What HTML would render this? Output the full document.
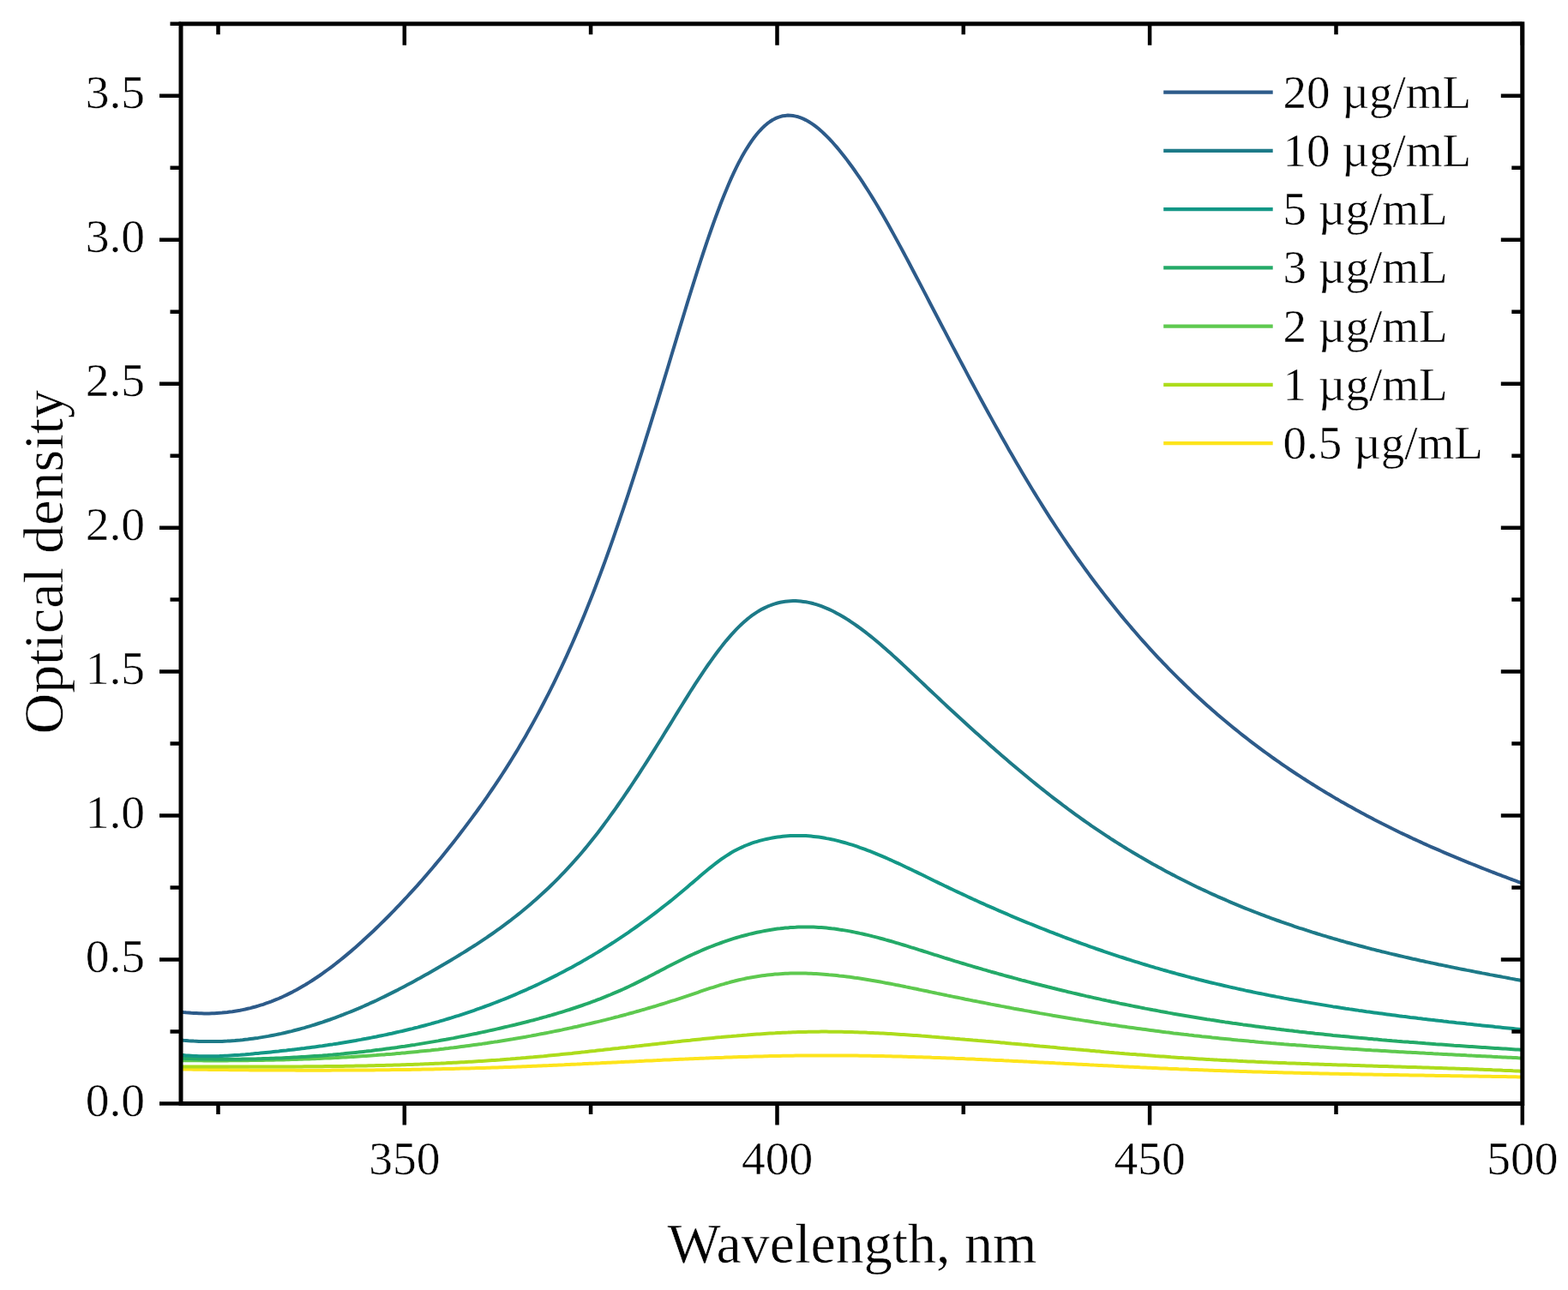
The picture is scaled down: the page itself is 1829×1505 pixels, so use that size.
<!DOCTYPE html>
<html><head><meta charset="utf-8"><title>Optical density spectra</title>
<style>html,body{margin:0;padding:0;background:#fff;}svg{display:block;}</style>
</head><body>
<svg width="1829" height="1505" viewBox="0 0 1829 1505">
<rect width="1829" height="1505" fill="#fff"/>
<defs><clipPath id="c"><rect x="211.0" y="27.8" width="1564.8" height="1259.7"/></clipPath></defs>
<g clip-path="url(#c)" fill="none" stroke-width="4.0" stroke-linejoin="round" stroke-linecap="round">
<path d="M211.0,1247.4 L214.0,1247.5 L217.0,1247.5 L220.0,1247.6 L223.0,1247.6 L226.0,1247.7 L229.0,1247.7 L232.0,1247.7 L235.0,1247.8 L238.0,1247.8 L241.0,1247.8 L244.0,1247.9 L247.0,1247.9 L250.0,1248.0 L253.0,1248.0 L256.0,1248.0 L259.0,1248.1 L262.0,1248.1 L265.0,1248.1 L268.0,1248.2 L271.0,1248.2 L274.0,1248.2 L277.0,1248.2 L280.0,1248.3 L283.0,1248.3 L286.0,1248.3 L289.0,1248.3 L292.0,1248.4 L295.0,1248.4 L298.0,1248.4 L301.0,1248.4 L304.0,1248.5 L307.0,1248.5 L310.0,1248.5 L313.0,1248.5 L316.0,1248.5 L319.0,1248.6 L322.0,1248.6 L325.0,1248.6 L328.0,1248.6 L331.0,1248.6 L334.0,1248.6 L337.0,1248.6 L340.0,1248.6 L343.0,1248.6 L346.0,1248.7 L349.0,1248.7 L352.0,1248.7 L355.0,1248.7 L358.0,1248.7 L361.0,1248.7 L364.0,1248.7 L367.0,1248.7 L370.0,1248.7 L373.0,1248.7 L376.0,1248.7 L379.0,1248.7 L382.0,1248.7 L385.0,1248.7 L388.0,1248.6 L391.0,1248.6 L394.0,1248.6 L397.0,1248.6 L400.0,1248.6 L403.0,1248.6 L406.0,1248.6 L409.0,1248.6 L412.0,1248.5 L415.0,1248.5 L418.0,1248.5 L421.0,1248.5 L424.0,1248.5 L427.0,1248.4 L430.0,1248.4 L433.0,1248.4 L436.0,1248.4 L439.0,1248.3 L442.0,1248.3 L445.0,1248.3 L448.0,1248.2 L451.0,1248.2 L454.0,1248.2 L457.0,1248.1 L460.0,1248.1 L463.0,1248.1 L466.0,1248.0 L469.0,1248.0 L472.0,1247.9 L475.0,1247.9 L478.0,1247.9 L481.0,1247.8 L484.0,1247.8 L487.0,1247.7 L490.0,1247.7 L493.0,1247.6 L496.0,1247.5 L499.0,1247.5 L502.0,1247.4 L505.0,1247.4 L508.0,1247.3 L511.0,1247.3 L514.0,1247.2 L517.0,1247.1 L520.0,1247.1 L523.0,1247.0 L526.0,1246.9 L529.0,1246.9 L532.0,1246.8 L535.0,1246.7 L538.0,1246.6 L541.0,1246.6 L544.0,1246.5 L547.0,1246.4 L550.0,1246.3 L553.0,1246.2 L556.0,1246.1 L559.0,1246.1 L562.0,1246.0 L565.0,1245.9 L568.0,1245.8 L571.0,1245.7 L574.0,1245.6 L577.0,1245.5 L580.0,1245.4 L583.0,1245.3 L586.0,1245.2 L589.0,1245.1 L592.0,1245.0 L595.0,1244.9 L598.0,1244.8 L601.0,1244.7 L604.0,1244.5 L607.0,1244.4 L610.0,1244.3 L613.0,1244.2 L616.0,1244.1 L619.0,1244.0 L622.0,1243.8 L625.0,1243.7 L628.0,1243.6 L631.0,1243.5 L634.0,1243.3 L637.0,1243.2 L640.0,1243.1 L643.0,1242.9 L646.0,1242.8 L649.0,1242.7 L652.0,1242.5 L655.0,1242.4 L658.0,1242.3 L661.0,1242.1 L664.0,1242.0 L667.0,1241.8 L670.0,1241.7 L673.0,1241.6 L676.0,1241.4 L679.0,1241.3 L682.0,1241.1 L685.0,1241.0 L688.0,1240.8 L691.0,1240.7 L694.0,1240.6 L697.0,1240.4 L700.0,1240.3 L703.0,1240.1 L706.0,1240.0 L709.0,1239.8 L712.0,1239.7 L715.0,1239.5 L718.0,1239.4 L721.0,1239.2 L724.0,1239.1 L727.0,1238.9 L730.0,1238.8 L733.0,1238.7 L736.0,1238.5 L739.0,1238.4 L742.0,1238.2 L745.0,1238.1 L748.0,1237.9 L751.0,1237.8 L754.0,1237.6 L757.0,1237.5 L760.0,1237.4 L763.0,1237.2 L766.0,1237.1 L769.0,1236.9 L772.0,1236.8 L775.0,1236.6 L778.0,1236.5 L781.0,1236.4 L784.0,1236.2 L787.0,1236.1 L790.0,1236.0 L793.0,1235.8 L796.0,1235.7 L799.0,1235.6 L802.0,1235.4 L805.0,1235.3 L808.0,1235.2 L811.0,1235.0 L814.0,1234.9 L817.0,1234.8 L820.0,1234.7 L823.0,1234.6 L826.0,1234.4 L829.0,1234.3 L832.0,1234.2 L835.0,1234.1 L838.0,1234.0 L841.0,1233.9 L844.0,1233.8 L847.0,1233.6 L850.0,1233.5 L853.0,1233.4 L856.0,1233.3 L859.0,1233.2 L862.0,1233.1 L865.0,1233.0 L868.0,1233.0 L871.0,1232.9 L874.0,1232.8 L877.0,1232.7 L880.0,1232.6 L883.0,1232.5 L886.0,1232.4 L889.0,1232.4 L892.0,1232.3 L895.0,1232.2 L898.0,1232.1 L901.0,1232.1 L904.0,1232.0 L907.0,1232.0 L910.0,1231.9 L913.0,1231.8 L916.0,1231.8 L919.0,1231.7 L922.0,1231.7 L925.0,1231.7 L928.0,1231.6 L931.0,1231.6 L934.0,1231.5 L937.0,1231.5 L940.0,1231.5 L943.0,1231.5 L946.0,1231.4 L949.0,1231.4 L952.0,1231.4 L955.0,1231.4 L958.0,1231.4 L961.0,1231.4 L964.0,1231.4 L967.0,1231.4 L970.0,1231.4 L973.0,1231.4 L976.0,1231.4 L979.0,1231.4 L982.0,1231.4 L985.0,1231.5 L988.0,1231.5 L991.0,1231.5 L994.0,1231.5 L997.0,1231.6 L1000.0,1231.6 L1003.0,1231.7 L1006.0,1231.7 L1009.0,1231.7 L1012.0,1231.8 L1015.0,1231.8 L1018.0,1231.9 L1021.0,1231.9 L1024.0,1232.0 L1027.0,1232.1 L1030.0,1232.1 L1033.0,1232.2 L1036.0,1232.3 L1039.0,1232.3 L1042.0,1232.4 L1045.0,1232.5 L1048.0,1232.6 L1051.0,1232.6 L1054.0,1232.7 L1057.0,1232.8 L1060.0,1232.9 L1063.0,1233.0 L1066.0,1233.1 L1069.0,1233.2 L1072.0,1233.2 L1075.0,1233.3 L1078.0,1233.4 L1081.0,1233.5 L1084.0,1233.6 L1087.0,1233.8 L1090.0,1233.9 L1093.0,1234.0 L1096.0,1234.1 L1099.0,1234.2 L1102.0,1234.3 L1105.0,1234.4 L1108.0,1234.5 L1111.0,1234.6 L1114.0,1234.8 L1117.0,1234.9 L1120.0,1235.0 L1123.0,1235.1 L1126.0,1235.3 L1129.0,1235.4 L1132.0,1235.5 L1135.0,1235.6 L1138.0,1235.8 L1141.0,1235.9 L1144.0,1236.0 L1147.0,1236.2 L1150.0,1236.3 L1153.0,1236.4 L1156.0,1236.6 L1159.0,1236.7 L1162.0,1236.9 L1165.0,1237.0 L1168.0,1237.1 L1171.0,1237.3 L1174.0,1237.4 L1177.0,1237.6 L1180.0,1237.7 L1183.0,1237.9 L1186.0,1238.0 L1189.0,1238.2 L1192.0,1238.3 L1195.0,1238.4 L1198.0,1238.6 L1201.0,1238.7 L1204.0,1238.9 L1207.0,1239.0 L1210.0,1239.2 L1213.0,1239.4 L1216.0,1239.5 L1219.0,1239.7 L1222.0,1239.8 L1225.0,1240.0 L1228.0,1240.1 L1231.0,1240.3 L1234.0,1240.4 L1237.0,1240.6 L1240.0,1240.7 L1243.0,1240.9 L1246.0,1241.0 L1249.0,1241.2 L1252.0,1241.3 L1255.0,1241.5 L1258.0,1241.7 L1261.0,1241.8 L1264.0,1242.0 L1267.0,1242.1 L1270.0,1242.3 L1273.0,1242.4 L1276.0,1242.6 L1279.0,1242.7 L1282.0,1242.9 L1285.0,1243.0 L1288.0,1243.2 L1291.0,1243.3 L1294.0,1243.5 L1297.0,1243.6 L1300.0,1243.8 L1303.0,1243.9 L1306.0,1244.1 L1309.0,1244.2 L1312.0,1244.4 L1315.0,1244.5 L1318.0,1244.7 L1321.0,1244.8 L1324.0,1245.0 L1327.0,1245.1 L1330.0,1245.3 L1333.0,1245.4 L1336.0,1245.5 L1339.0,1245.7 L1342.0,1245.8 L1345.0,1246.0 L1348.0,1246.1 L1351.0,1246.2 L1354.0,1246.4 L1357.0,1246.5 L1360.0,1246.6 L1363.0,1246.8 L1366.0,1246.9 L1369.0,1247.0 L1372.0,1247.1 L1375.0,1247.3 L1378.0,1247.4 L1381.0,1247.5 L1384.0,1247.6 L1387.0,1247.8 L1390.0,1247.9 L1393.0,1248.0 L1396.0,1248.1 L1399.0,1248.2 L1402.0,1248.3 L1405.0,1248.5 L1408.0,1248.6 L1411.0,1248.7 L1414.0,1248.8 L1417.0,1248.9 L1420.0,1249.0 L1423.0,1249.1 L1426.0,1249.2 L1429.0,1249.3 L1432.0,1249.4 L1435.0,1249.5 L1438.0,1249.6 L1441.0,1249.7 L1444.0,1249.8 L1447.0,1249.9 L1450.0,1250.0 L1453.0,1250.1 L1456.0,1250.2 L1459.0,1250.3 L1462.0,1250.4 L1465.0,1250.5 L1468.0,1250.5 L1471.0,1250.6 L1474.0,1250.7 L1477.0,1250.8 L1480.0,1250.9 L1483.0,1251.0 L1486.0,1251.1 L1489.0,1251.1 L1492.0,1251.2 L1495.0,1251.3 L1498.0,1251.4 L1501.0,1251.5 L1504.0,1251.5 L1507.0,1251.6 L1510.0,1251.7 L1513.0,1251.8 L1516.0,1251.8 L1519.0,1251.9 L1522.0,1252.0 L1525.0,1252.0 L1528.0,1252.1 L1531.0,1252.2 L1534.0,1252.3 L1537.0,1252.3 L1540.0,1252.4 L1543.0,1252.5 L1546.0,1252.5 L1549.0,1252.6 L1552.0,1252.7 L1555.0,1252.7 L1558.0,1252.8 L1561.0,1252.8 L1564.0,1252.9 L1567.0,1253.0 L1570.0,1253.0 L1573.0,1253.1 L1576.0,1253.1 L1579.0,1253.2 L1582.0,1253.3 L1585.0,1253.3 L1588.0,1253.4 L1591.0,1253.4 L1594.0,1253.5 L1597.0,1253.6 L1600.0,1253.6 L1603.0,1253.7 L1606.0,1253.7 L1609.0,1253.8 L1612.0,1253.8 L1615.0,1253.9 L1618.0,1253.9 L1621.0,1254.0 L1624.0,1254.0 L1627.0,1254.1 L1630.0,1254.1 L1633.0,1254.2 L1636.0,1254.2 L1639.0,1254.3 L1642.0,1254.3 L1645.0,1254.4 L1648.0,1254.4 L1651.0,1254.5 L1654.0,1254.5 L1657.0,1254.6 L1660.0,1254.6 L1663.0,1254.7 L1666.0,1254.7 L1669.0,1254.8 L1672.0,1254.8 L1675.0,1254.9 L1678.0,1254.9 L1681.0,1255.0 L1684.0,1255.0 L1687.0,1255.1 L1690.0,1255.1 L1693.0,1255.2 L1696.0,1255.2 L1699.0,1255.2 L1702.0,1255.3 L1705.0,1255.3 L1708.0,1255.4 L1711.0,1255.4 L1714.0,1255.5 L1717.0,1255.5 L1720.0,1255.6 L1723.0,1255.6 L1726.0,1255.7 L1729.0,1255.7 L1732.0,1255.8 L1735.0,1255.8 L1738.0,1255.8 L1741.0,1255.9 L1744.0,1255.9 L1747.0,1256.0 L1750.0,1256.0 L1753.0,1256.1 L1756.0,1256.1 L1759.0,1256.2 L1762.0,1256.2 L1765.0,1256.3 L1768.0,1256.3 L1771.0,1256.4 L1774.0,1256.4 L1775.8,1256.4" stroke="#fde41c"/>
<path d="M211.0,1244.5 L214.0,1244.5 L217.0,1244.5 L220.0,1244.5 L223.0,1244.5 L226.0,1244.5 L229.0,1244.5 L232.0,1244.5 L235.0,1244.5 L238.0,1244.5 L241.0,1244.5 L244.0,1244.5 L247.0,1244.5 L250.0,1244.5 L253.0,1244.5 L256.0,1244.5 L259.0,1244.5 L262.0,1244.5 L265.0,1244.5 L268.0,1244.5 L271.0,1244.5 L274.0,1244.6 L277.0,1244.6 L280.0,1244.6 L283.0,1244.6 L286.0,1244.6 L289.0,1244.6 L292.0,1244.6 L295.0,1244.5 L298.0,1244.5 L301.0,1244.5 L304.0,1244.5 L307.0,1244.5 L310.0,1244.5 L313.0,1244.5 L316.0,1244.5 L319.0,1244.5 L322.0,1244.5 L325.0,1244.5 L328.0,1244.5 L331.0,1244.5 L334.0,1244.5 L337.0,1244.4 L340.0,1244.4 L343.0,1244.4 L346.0,1244.4 L349.0,1244.4 L352.0,1244.4 L355.0,1244.3 L358.0,1244.3 L361.0,1244.3 L364.0,1244.3 L367.0,1244.2 L370.0,1244.2 L373.0,1244.2 L376.0,1244.2 L379.0,1244.1 L382.0,1244.1 L385.0,1244.1 L388.0,1244.0 L391.0,1244.0 L394.0,1243.9 L397.0,1243.9 L400.0,1243.9 L403.0,1243.8 L406.0,1243.8 L409.0,1243.7 L412.0,1243.7 L415.0,1243.6 L418.0,1243.6 L421.0,1243.5 L424.0,1243.5 L427.0,1243.4 L430.0,1243.3 L433.0,1243.3 L436.0,1243.2 L439.0,1243.1 L442.0,1243.1 L445.0,1243.0 L448.0,1242.9 L451.0,1242.8 L454.0,1242.7 L457.0,1242.7 L460.0,1242.6 L463.0,1242.5 L466.0,1242.4 L469.0,1242.3 L472.0,1242.2 L475.0,1242.1 L478.0,1242.0 L481.0,1241.9 L484.0,1241.8 L487.0,1241.7 L490.0,1241.6 L493.0,1241.4 L496.0,1241.3 L499.0,1241.2 L502.0,1241.1 L505.0,1241.0 L508.0,1240.8 L511.0,1240.7 L514.0,1240.6 L517.0,1240.4 L520.0,1240.3 L523.0,1240.1 L526.0,1240.0 L529.0,1239.8 L532.0,1239.7 L535.0,1239.5 L538.0,1239.3 L541.0,1239.2 L544.0,1239.0 L547.0,1238.8 L550.0,1238.7 L553.0,1238.5 L556.0,1238.3 L559.0,1238.1 L562.0,1237.9 L565.0,1237.7 L568.0,1237.5 L571.0,1237.3 L574.0,1237.1 L577.0,1236.9 L580.0,1236.7 L583.0,1236.5 L586.0,1236.2 L589.0,1236.0 L592.0,1235.8 L595.0,1235.6 L598.0,1235.3 L601.0,1235.1 L604.0,1234.8 L607.0,1234.6 L610.0,1234.3 L613.0,1234.1 L616.0,1233.8 L619.0,1233.5 L622.0,1233.3 L625.0,1233.0 L628.0,1232.7 L631.0,1232.4 L634.0,1232.2 L637.0,1231.9 L640.0,1231.6 L643.0,1231.3 L646.0,1231.0 L649.0,1230.7 L652.0,1230.4 L655.0,1230.1 L658.0,1229.8 L661.0,1229.5 L664.0,1229.2 L667.0,1228.9 L670.0,1228.5 L673.0,1228.2 L676.0,1227.9 L679.0,1227.6 L682.0,1227.3 L685.0,1226.9 L688.0,1226.6 L691.0,1226.3 L694.0,1226.0 L697.0,1225.6 L700.0,1225.3 L703.0,1225.0 L706.0,1224.6 L709.0,1224.3 L712.0,1224.0 L715.0,1223.6 L718.0,1223.3 L721.0,1223.0 L724.0,1222.6 L727.0,1222.3 L730.0,1222.0 L733.0,1221.6 L736.0,1221.3 L739.0,1220.9 L742.0,1220.6 L745.0,1220.3 L748.0,1219.9 L751.0,1219.6 L754.0,1219.2 L757.0,1218.9 L760.0,1218.6 L763.0,1218.2 L766.0,1217.9 L769.0,1217.6 L772.0,1217.2 L775.0,1216.9 L778.0,1216.6 L781.0,1216.2 L784.0,1215.9 L787.0,1215.6 L790.0,1215.3 L793.0,1214.9 L796.0,1214.6 L799.0,1214.3 L802.0,1214.0 L805.0,1213.7 L808.0,1213.3 L811.0,1213.0 L814.0,1212.7 L817.0,1212.4 L820.0,1212.1 L823.0,1211.8 L826.0,1211.5 L829.0,1211.2 L832.0,1210.9 L835.0,1210.6 L838.0,1210.3 L841.0,1210.1 L844.0,1209.8 L847.0,1209.5 L850.0,1209.2 L853.0,1209.0 L856.0,1208.7 L859.0,1208.5 L862.0,1208.2 L865.0,1208.0 L868.0,1207.7 L871.0,1207.5 L874.0,1207.2 L877.0,1207.0 L880.0,1206.8 L883.0,1206.6 L886.0,1206.4 L889.0,1206.2 L892.0,1206.0 L895.0,1205.8 L898.0,1205.6 L901.0,1205.4 L904.0,1205.3 L907.0,1205.1 L910.0,1205.0 L913.0,1204.8 L916.0,1204.7 L919.0,1204.6 L922.0,1204.4 L925.0,1204.3 L928.0,1204.2 L931.0,1204.1 L934.0,1204.0 L937.0,1204.0 L940.0,1203.9 L943.0,1203.8 L946.0,1203.8 L949.0,1203.7 L952.0,1203.7 L955.0,1203.7 L958.0,1203.6 L961.0,1203.6 L964.0,1203.6 L967.0,1203.7 L970.0,1203.7 L973.0,1203.7 L976.0,1203.7 L979.0,1203.8 L982.0,1203.8 L985.0,1203.9 L988.0,1204.0 L991.0,1204.0 L994.0,1204.1 L997.0,1204.2 L1000.0,1204.3 L1003.0,1204.4 L1006.0,1204.5 L1009.0,1204.6 L1012.0,1204.8 L1015.0,1204.9 L1018.0,1205.0 L1021.0,1205.2 L1024.0,1205.3 L1027.0,1205.5 L1030.0,1205.6 L1033.0,1205.8 L1036.0,1206.0 L1039.0,1206.1 L1042.0,1206.3 L1045.0,1206.5 L1048.0,1206.7 L1051.0,1206.9 L1054.0,1207.1 L1057.0,1207.3 L1060.0,1207.5 L1063.0,1207.7 L1066.0,1207.9 L1069.0,1208.1 L1072.0,1208.3 L1075.0,1208.6 L1078.0,1208.8 L1081.0,1209.0 L1084.0,1209.2 L1087.0,1209.5 L1090.0,1209.7 L1093.0,1209.9 L1096.0,1210.2 L1099.0,1210.4 L1102.0,1210.7 L1105.0,1210.9 L1108.0,1211.2 L1111.0,1211.4 L1114.0,1211.7 L1117.0,1211.9 L1120.0,1212.2 L1123.0,1212.4 L1126.0,1212.7 L1129.0,1212.9 L1132.0,1213.2 L1135.0,1213.5 L1138.0,1213.7 L1141.0,1214.0 L1144.0,1214.2 L1147.0,1214.5 L1150.0,1214.8 L1153.0,1215.0 L1156.0,1215.3 L1159.0,1215.6 L1162.0,1215.8 L1165.0,1216.1 L1168.0,1216.4 L1171.0,1216.6 L1174.0,1216.9 L1177.0,1217.2 L1180.0,1217.5 L1183.0,1217.7 L1186.0,1218.0 L1189.0,1218.3 L1192.0,1218.6 L1195.0,1218.8 L1198.0,1219.1 L1201.0,1219.4 L1204.0,1219.6 L1207.0,1219.9 L1210.0,1220.2 L1213.0,1220.5 L1216.0,1220.7 L1219.0,1221.0 L1222.0,1221.3 L1225.0,1221.6 L1228.0,1221.8 L1231.0,1222.1 L1234.0,1222.4 L1237.0,1222.7 L1240.0,1222.9 L1243.0,1223.2 L1246.0,1223.5 L1249.0,1223.7 L1252.0,1224.0 L1255.0,1224.3 L1258.0,1224.5 L1261.0,1224.8 L1264.0,1225.1 L1267.0,1225.3 L1270.0,1225.6 L1273.0,1225.9 L1276.0,1226.1 L1279.0,1226.4 L1282.0,1226.6 L1285.0,1226.9 L1288.0,1227.2 L1291.0,1227.4 L1294.0,1227.7 L1297.0,1227.9 L1300.0,1228.2 L1303.0,1228.4 L1306.0,1228.7 L1309.0,1228.9 L1312.0,1229.2 L1315.0,1229.4 L1318.0,1229.7 L1321.0,1229.9 L1324.0,1230.1 L1327.0,1230.4 L1330.0,1230.6 L1333.0,1230.8 L1336.0,1231.1 L1339.0,1231.3 L1342.0,1231.5 L1345.0,1231.7 L1348.0,1232.0 L1351.0,1232.2 L1354.0,1232.4 L1357.0,1232.6 L1360.0,1232.8 L1363.0,1233.0 L1366.0,1233.3 L1369.0,1233.5 L1372.0,1233.7 L1375.0,1233.9 L1378.0,1234.1 L1381.0,1234.3 L1384.0,1234.4 L1387.0,1234.6 L1390.0,1234.8 L1393.0,1235.0 L1396.0,1235.2 L1399.0,1235.4 L1402.0,1235.5 L1405.0,1235.7 L1408.0,1235.9 L1411.0,1236.1 L1414.0,1236.2 L1417.0,1236.4 L1420.0,1236.6 L1423.0,1236.7 L1426.0,1236.9 L1429.0,1237.0 L1432.0,1237.2 L1435.0,1237.3 L1438.0,1237.5 L1441.0,1237.6 L1444.0,1237.8 L1447.0,1237.9 L1450.0,1238.1 L1453.0,1238.2 L1456.0,1238.4 L1459.0,1238.5 L1462.0,1238.6 L1465.0,1238.8 L1468.0,1238.9 L1471.0,1239.0 L1474.0,1239.2 L1477.0,1239.3 L1480.0,1239.4 L1483.0,1239.5 L1486.0,1239.7 L1489.0,1239.8 L1492.0,1239.9 L1495.0,1240.0 L1498.0,1240.1 L1501.0,1240.3 L1504.0,1240.4 L1507.0,1240.5 L1510.0,1240.6 L1513.0,1240.7 L1516.0,1240.8 L1519.0,1240.9 L1522.0,1241.0 L1525.0,1241.1 L1528.0,1241.3 L1531.0,1241.4 L1534.0,1241.5 L1537.0,1241.6 L1540.0,1241.7 L1543.0,1241.8 L1546.0,1241.9 L1549.0,1242.0 L1552.0,1242.1 L1555.0,1242.2 L1558.0,1242.3 L1561.0,1242.4 L1564.0,1242.5 L1567.0,1242.6 L1570.0,1242.6 L1573.0,1242.7 L1576.0,1242.8 L1579.0,1242.9 L1582.0,1243.0 L1585.0,1243.1 L1588.0,1243.2 L1591.0,1243.3 L1594.0,1243.4 L1597.0,1243.5 L1600.0,1243.6 L1603.0,1243.7 L1606.0,1243.8 L1609.0,1243.9 L1612.0,1243.9 L1615.0,1244.0 L1618.0,1244.1 L1621.0,1244.2 L1624.0,1244.3 L1627.0,1244.4 L1630.0,1244.5 L1633.0,1244.6 L1636.0,1244.7 L1639.0,1244.8 L1642.0,1244.9 L1645.0,1245.0 L1648.0,1245.0 L1651.0,1245.1 L1654.0,1245.2 L1657.0,1245.3 L1660.0,1245.4 L1663.0,1245.5 L1666.0,1245.6 L1669.0,1245.7 L1672.0,1245.8 L1675.0,1245.9 L1678.0,1246.0 L1681.0,1246.1 L1684.0,1246.2 L1687.0,1246.3 L1690.0,1246.4 L1693.0,1246.5 L1696.0,1246.6 L1699.0,1246.7 L1702.0,1246.8 L1705.0,1246.9 L1708.0,1247.0 L1711.0,1247.1 L1714.0,1247.2 L1717.0,1247.3 L1720.0,1247.5 L1723.0,1247.6 L1726.0,1247.7 L1729.0,1247.8 L1732.0,1247.9 L1735.0,1248.0 L1738.0,1248.1 L1741.0,1248.3 L1744.0,1248.4 L1747.0,1248.5 L1750.0,1248.6 L1753.0,1248.8 L1756.0,1248.9 L1759.0,1249.0 L1762.0,1249.1 L1765.0,1249.3 L1768.0,1249.4 L1771.0,1249.5 L1774.0,1249.7 L1775.8,1249.8" stroke="#acdc1c"/>
<path d="M211.0,1237.2 L214.0,1237.2 L217.0,1237.2 L220.0,1237.2 L223.0,1237.3 L226.0,1237.3 L229.0,1237.3 L232.0,1237.3 L235.0,1237.3 L238.0,1237.4 L241.0,1237.4 L244.0,1237.4 L247.0,1237.4 L250.0,1237.4 L253.0,1237.4 L256.0,1237.4 L259.0,1237.4 L262.0,1237.4 L265.0,1237.4 L268.0,1237.3 L271.0,1237.3 L274.0,1237.3 L277.0,1237.3 L280.0,1237.3 L283.0,1237.2 L286.0,1237.2 L289.0,1237.2 L292.0,1237.1 L295.0,1237.1 L298.0,1237.0 L301.0,1237.0 L304.0,1237.0 L307.0,1236.9 L310.0,1236.8 L313.0,1236.8 L316.0,1236.7 L319.0,1236.7 L322.0,1236.6 L325.0,1236.5 L328.0,1236.5 L331.0,1236.4 L334.0,1236.3 L337.0,1236.2 L340.0,1236.1 L343.0,1236.0 L346.0,1235.9 L349.0,1235.8 L352.0,1235.7 L355.0,1235.6 L358.0,1235.5 L361.0,1235.4 L364.0,1235.3 L367.0,1235.2 L370.0,1235.0 L373.0,1234.9 L376.0,1234.8 L379.0,1234.6 L382.0,1234.5 L385.0,1234.4 L388.0,1234.2 L391.0,1234.1 L394.0,1233.9 L397.0,1233.7 L400.0,1233.6 L403.0,1233.4 L406.0,1233.2 L409.0,1233.1 L412.0,1232.9 L415.0,1232.7 L418.0,1232.5 L421.0,1232.3 L424.0,1232.1 L427.0,1231.9 L430.0,1231.7 L433.0,1231.5 L436.0,1231.3 L439.0,1231.1 L442.0,1230.8 L445.0,1230.6 L448.0,1230.4 L451.0,1230.1 L454.0,1229.9 L457.0,1229.7 L460.0,1229.4 L463.0,1229.1 L466.0,1228.9 L469.0,1228.6 L472.0,1228.4 L475.0,1228.1 L478.0,1227.8 L481.0,1227.5 L484.0,1227.2 L487.0,1226.9 L490.0,1226.6 L493.0,1226.3 L496.0,1226.0 L499.0,1225.7 L502.0,1225.4 L505.0,1225.0 L508.0,1224.7 L511.0,1224.4 L514.0,1224.0 L517.0,1223.7 L520.0,1223.3 L523.0,1223.0 L526.0,1222.6 L529.0,1222.3 L532.0,1221.9 L535.0,1221.5 L538.0,1221.1 L541.0,1220.7 L544.0,1220.3 L547.0,1219.9 L550.0,1219.5 L553.0,1219.1 L556.0,1218.7 L559.0,1218.3 L562.0,1217.9 L565.0,1217.4 L568.0,1217.0 L571.0,1216.5 L574.0,1216.1 L577.0,1215.6 L580.0,1215.2 L583.0,1214.7 L586.0,1214.2 L589.0,1213.7 L592.0,1213.2 L595.0,1212.7 L598.0,1212.3 L601.0,1211.7 L604.0,1211.2 L607.0,1210.7 L610.0,1210.2 L613.0,1209.7 L616.0,1209.1 L619.0,1208.6 L622.0,1208.0 L625.0,1207.5 L628.0,1206.9 L631.0,1206.3 L634.0,1205.8 L637.0,1205.2 L640.0,1204.6 L643.0,1204.0 L646.0,1203.4 L649.0,1202.8 L652.0,1202.2 L655.0,1201.6 L658.0,1200.9 L661.0,1200.3 L664.0,1199.6 L667.0,1199.0 L670.0,1198.3 L673.0,1197.7 L676.0,1197.0 L679.0,1196.3 L682.0,1195.6 L685.0,1194.9 L688.0,1194.2 L691.0,1193.5 L694.0,1192.8 L697.0,1192.1 L700.0,1191.4 L703.0,1190.6 L706.0,1189.9 L709.0,1189.1 L712.0,1188.4 L715.0,1187.6 L718.0,1186.8 L721.0,1186.1 L724.0,1185.3 L727.0,1184.5 L730.0,1183.7 L733.0,1182.8 L736.0,1182.0 L739.0,1181.2 L742.0,1180.3 L745.0,1179.5 L748.0,1178.6 L751.0,1177.8 L754.0,1176.9 L757.0,1176.0 L760.0,1175.1 L763.0,1174.3 L766.0,1173.3 L769.0,1172.4 L772.0,1171.5 L775.0,1170.6 L778.0,1169.7 L781.0,1168.7 L784.0,1167.7 L787.0,1166.8 L790.0,1165.8 L793.0,1164.8 L796.0,1163.8 L799.0,1162.8 L802.0,1161.8 L805.0,1160.8 L808.0,1159.8 L811.0,1158.8 L814.0,1157.8 L817.0,1156.7 L820.0,1155.7 L823.0,1154.7 L826.0,1153.7 L829.0,1152.7 L832.0,1151.8 L835.0,1150.8 L838.0,1149.9 L841.0,1148.9 L844.0,1148.1 L847.0,1147.2 L850.0,1146.4 L853.0,1145.5 L856.0,1144.8 L859.0,1144.0 L862.0,1143.3 L865.0,1142.6 L868.0,1142.0 L871.0,1141.3 L874.0,1140.8 L877.0,1140.2 L880.0,1139.7 L883.0,1139.2 L886.0,1138.7 L889.0,1138.3 L892.0,1137.9 L895.0,1137.5 L898.0,1137.2 L901.0,1136.9 L904.0,1136.6 L907.0,1136.4 L910.0,1136.2 L913.0,1136.0 L916.0,1135.8 L919.0,1135.7 L922.0,1135.6 L925.0,1135.5 L928.0,1135.5 L931.0,1135.5 L934.0,1135.5 L937.0,1135.5 L940.0,1135.6 L943.0,1135.7 L946.0,1135.8 L949.0,1135.9 L952.0,1136.1 L955.0,1136.3 L958.0,1136.5 L961.0,1136.7 L964.0,1136.9 L967.0,1137.2 L970.0,1137.4 L973.0,1137.7 L976.0,1138.0 L979.0,1138.4 L982.0,1138.7 L985.0,1139.1 L988.0,1139.4 L991.0,1139.8 L994.0,1140.2 L997.0,1140.7 L1000.0,1141.1 L1003.0,1141.5 L1006.0,1142.0 L1009.0,1142.5 L1012.0,1143.0 L1015.0,1143.5 L1018.0,1144.0 L1021.0,1144.5 L1024.0,1145.0 L1027.0,1145.5 L1030.0,1146.1 L1033.0,1146.7 L1036.0,1147.2 L1039.0,1147.8 L1042.0,1148.4 L1045.0,1149.0 L1048.0,1149.5 L1051.0,1150.1 L1054.0,1150.7 L1057.0,1151.4 L1060.0,1152.0 L1063.0,1152.6 L1066.0,1153.2 L1069.0,1153.8 L1072.0,1154.5 L1075.0,1155.1 L1078.0,1155.7 L1081.0,1156.3 L1084.0,1157.0 L1087.0,1157.6 L1090.0,1158.2 L1093.0,1158.9 L1096.0,1159.5 L1099.0,1160.1 L1102.0,1160.7 L1105.0,1161.4 L1108.0,1162.0 L1111.0,1162.6 L1114.0,1163.2 L1117.0,1163.8 L1120.0,1164.4 L1123.0,1165.0 L1126.0,1165.7 L1129.0,1166.3 L1132.0,1166.9 L1135.0,1167.5 L1138.0,1168.0 L1141.0,1168.6 L1144.0,1169.2 L1147.0,1169.8 L1150.0,1170.4 L1153.0,1171.0 L1156.0,1171.6 L1159.0,1172.1 L1162.0,1172.7 L1165.0,1173.3 L1168.0,1173.9 L1171.0,1174.4 L1174.0,1175.0 L1177.0,1175.5 L1180.0,1176.1 L1183.0,1176.7 L1186.0,1177.2 L1189.0,1177.8 L1192.0,1178.3 L1195.0,1178.9 L1198.0,1179.4 L1201.0,1179.9 L1204.0,1180.5 L1207.0,1181.0 L1210.0,1181.5 L1213.0,1182.1 L1216.0,1182.6 L1219.0,1183.1 L1222.0,1183.6 L1225.0,1184.1 L1228.0,1184.7 L1231.0,1185.2 L1234.0,1185.7 L1237.0,1186.2 L1240.0,1186.7 L1243.0,1187.2 L1246.0,1187.7 L1249.0,1188.2 L1252.0,1188.7 L1255.0,1189.2 L1258.0,1189.6 L1261.0,1190.1 L1264.0,1190.6 L1267.0,1191.1 L1270.0,1191.5 L1273.0,1192.0 L1276.0,1192.5 L1279.0,1192.9 L1282.0,1193.4 L1285.0,1193.9 L1288.0,1194.3 L1291.0,1194.8 L1294.0,1195.2 L1297.0,1195.7 L1300.0,1196.1 L1303.0,1196.5 L1306.0,1197.0 L1309.0,1197.4 L1312.0,1197.8 L1315.0,1198.3 L1318.0,1198.7 L1321.0,1199.1 L1324.0,1199.5 L1327.0,1199.9 L1330.0,1200.3 L1333.0,1200.7 L1336.0,1201.1 L1339.0,1201.5 L1342.0,1201.9 L1345.0,1202.3 L1348.0,1202.7 L1351.0,1203.1 L1354.0,1203.5 L1357.0,1203.9 L1360.0,1204.3 L1363.0,1204.6 L1366.0,1205.0 L1369.0,1205.4 L1372.0,1205.7 L1375.0,1206.1 L1378.0,1206.4 L1381.0,1206.8 L1384.0,1207.1 L1387.0,1207.5 L1390.0,1207.8 L1393.0,1208.2 L1396.0,1208.5 L1399.0,1208.8 L1402.0,1209.2 L1405.0,1209.5 L1408.0,1209.8 L1411.0,1210.1 L1414.0,1210.5 L1417.0,1210.8 L1420.0,1211.1 L1423.0,1211.4 L1426.0,1211.7 L1429.0,1212.0 L1432.0,1212.3 L1435.0,1212.6 L1438.0,1212.9 L1441.0,1213.2 L1444.0,1213.5 L1447.0,1213.7 L1450.0,1214.0 L1453.0,1214.3 L1456.0,1214.6 L1459.0,1214.9 L1462.0,1215.1 L1465.0,1215.4 L1468.0,1215.7 L1471.0,1215.9 L1474.0,1216.2 L1477.0,1216.4 L1480.0,1216.7 L1483.0,1217.0 L1486.0,1217.2 L1489.0,1217.5 L1492.0,1217.7 L1495.0,1217.9 L1498.0,1218.2 L1501.0,1218.4 L1504.0,1218.7 L1507.0,1218.9 L1510.0,1219.1 L1513.0,1219.4 L1516.0,1219.6 L1519.0,1219.8 L1522.0,1220.0 L1525.0,1220.3 L1528.0,1220.5 L1531.0,1220.7 L1534.0,1220.9 L1537.0,1221.1 L1540.0,1221.4 L1543.0,1221.6 L1546.0,1221.8 L1549.0,1222.0 L1552.0,1222.2 L1555.0,1222.4 L1558.0,1222.6 L1561.0,1222.8 L1564.0,1223.0 L1567.0,1223.2 L1570.0,1223.4 L1573.0,1223.6 L1576.0,1223.8 L1579.0,1224.0 L1582.0,1224.1 L1585.0,1224.3 L1588.0,1224.5 L1591.0,1224.7 L1594.0,1224.9 L1597.0,1225.1 L1600.0,1225.3 L1603.0,1225.4 L1606.0,1225.6 L1609.0,1225.8 L1612.0,1226.0 L1615.0,1226.1 L1618.0,1226.3 L1621.0,1226.5 L1624.0,1226.7 L1627.0,1226.8 L1630.0,1227.0 L1633.0,1227.2 L1636.0,1227.3 L1639.0,1227.5 L1642.0,1227.7 L1645.0,1227.8 L1648.0,1228.0 L1651.0,1228.1 L1654.0,1228.3 L1657.0,1228.5 L1660.0,1228.6 L1663.0,1228.8 L1666.0,1228.9 L1669.0,1229.1 L1672.0,1229.3 L1675.0,1229.4 L1678.0,1229.6 L1681.0,1229.7 L1684.0,1229.9 L1687.0,1230.0 L1690.0,1230.2 L1693.0,1230.3 L1696.0,1230.5 L1699.0,1230.7 L1702.0,1230.8 L1705.0,1231.0 L1708.0,1231.1 L1711.0,1231.3 L1714.0,1231.4 L1717.0,1231.6 L1720.0,1231.7 L1723.0,1231.9 L1726.0,1232.0 L1729.0,1232.2 L1732.0,1232.3 L1735.0,1232.5 L1738.0,1232.6 L1741.0,1232.8 L1744.0,1232.9 L1747.0,1233.1 L1750.0,1233.2 L1753.0,1233.4 L1756.0,1233.5 L1759.0,1233.7 L1762.0,1233.8 L1765.0,1234.0 L1768.0,1234.1 L1771.0,1234.3 L1774.0,1234.4 L1775.8,1234.5" stroke="#5ec94f"/>
<path d="M211.0,1234.7 L214.0,1234.8 L217.0,1234.9 L220.0,1235.0 L223.0,1235.1 L226.0,1235.2 L229.0,1235.3 L232.0,1235.4 L235.0,1235.4 L238.0,1235.5 L241.0,1235.5 L244.0,1235.6 L247.0,1235.6 L250.0,1235.7 L253.0,1235.7 L256.0,1235.7 L259.0,1235.7 L262.0,1235.7 L265.0,1235.7 L268.0,1235.7 L271.0,1235.7 L274.0,1235.7 L277.0,1235.7 L280.0,1235.7 L283.0,1235.6 L286.0,1235.6 L289.0,1235.5 L292.0,1235.5 L295.0,1235.4 L298.0,1235.4 L301.0,1235.3 L304.0,1235.2 L307.0,1235.1 L310.0,1235.0 L313.0,1235.0 L316.0,1234.8 L319.0,1234.7 L322.0,1234.6 L325.0,1234.5 L328.0,1234.4 L331.0,1234.2 L334.0,1234.1 L337.0,1234.0 L340.0,1233.8 L343.0,1233.6 L346.0,1233.5 L349.0,1233.3 L352.0,1233.1 L355.0,1232.9 L358.0,1232.7 L361.0,1232.5 L364.0,1232.3 L367.0,1232.1 L370.0,1231.9 L373.0,1231.7 L376.0,1231.5 L379.0,1231.2 L382.0,1231.0 L385.0,1230.7 L388.0,1230.5 L391.0,1230.2 L394.0,1229.9 L397.0,1229.7 L400.0,1229.4 L403.0,1229.1 L406.0,1228.8 L409.0,1228.5 L412.0,1228.2 L415.0,1227.9 L418.0,1227.6 L421.0,1227.2 L424.0,1226.9 L427.0,1226.6 L430.0,1226.2 L433.0,1225.9 L436.0,1225.5 L439.0,1225.1 L442.0,1224.8 L445.0,1224.4 L448.0,1224.0 L451.0,1223.6 L454.0,1223.2 L457.0,1222.8 L460.0,1222.4 L463.0,1222.0 L466.0,1221.5 L469.0,1221.1 L472.0,1220.7 L475.0,1220.2 L478.0,1219.8 L481.0,1219.3 L484.0,1218.9 L487.0,1218.4 L490.0,1217.9 L493.0,1217.4 L496.0,1216.9 L499.0,1216.4 L502.0,1215.9 L505.0,1215.4 L508.0,1214.9 L511.0,1214.4 L514.0,1213.8 L517.0,1213.3 L520.0,1212.8 L523.0,1212.2 L526.0,1211.6 L529.0,1211.1 L532.0,1210.5 L535.0,1209.9 L538.0,1209.3 L541.0,1208.7 L544.0,1208.1 L547.0,1207.5 L550.0,1206.9 L553.0,1206.3 L556.0,1205.7 L559.0,1205.0 L562.0,1204.4 L565.0,1203.8 L568.0,1203.1 L571.0,1202.4 L574.0,1201.8 L577.0,1201.1 L580.0,1200.4 L583.0,1199.7 L586.0,1199.0 L589.0,1198.3 L592.0,1197.6 L595.0,1196.9 L598.0,1196.2 L601.0,1195.5 L604.0,1194.7 L607.0,1194.0 L610.0,1193.2 L613.0,1192.5 L616.0,1191.7 L619.0,1190.9 L622.0,1190.2 L625.0,1189.4 L628.0,1188.6 L631.0,1187.7 L634.0,1186.9 L637.0,1186.1 L640.0,1185.2 L643.0,1184.4 L646.0,1183.5 L649.0,1182.6 L652.0,1181.7 L655.0,1180.8 L658.0,1179.9 L661.0,1178.9 L664.0,1178.0 L667.0,1177.0 L670.0,1176.0 L673.0,1175.0 L676.0,1174.0 L679.0,1173.0 L682.0,1171.9 L685.0,1170.9 L688.0,1169.8 L691.0,1168.7 L694.0,1167.6 L697.0,1166.4 L700.0,1165.3 L703.0,1164.1 L706.0,1162.9 L709.0,1161.7 L712.0,1160.5 L715.0,1159.2 L718.0,1157.9 L721.0,1156.6 L724.0,1155.3 L727.0,1154.0 L730.0,1152.6 L733.0,1151.2 L736.0,1149.8 L739.0,1148.4 L742.0,1146.9 L745.0,1145.4 L748.0,1143.9 L751.0,1142.4 L754.0,1140.9 L757.0,1139.3 L760.0,1137.8 L763.0,1136.2 L766.0,1134.6 L769.0,1133.1 L772.0,1131.5 L775.0,1129.9 L778.0,1128.3 L781.0,1126.8 L784.0,1125.2 L787.0,1123.7 L790.0,1122.2 L793.0,1120.7 L796.0,1119.2 L799.0,1117.7 L802.0,1116.3 L805.0,1114.9 L808.0,1113.5 L811.0,1112.1 L814.0,1110.8 L817.0,1109.5 L820.0,1108.2 L823.0,1106.9 L826.0,1105.7 L829.0,1104.5 L832.0,1103.3 L835.0,1102.2 L838.0,1101.1 L841.0,1100.0 L844.0,1098.9 L847.0,1097.9 L850.0,1096.9 L853.0,1095.9 L856.0,1094.9 L859.0,1094.0 L862.0,1093.1 L865.0,1092.3 L868.0,1091.5 L871.0,1090.7 L874.0,1089.9 L877.0,1089.2 L880.0,1088.5 L883.0,1087.8 L886.0,1087.2 L889.0,1086.6 L892.0,1086.0 L895.0,1085.5 L898.0,1085.0 L901.0,1084.5 L904.0,1084.0 L907.0,1083.6 L910.0,1083.3 L913.0,1082.9 L916.0,1082.6 L919.0,1082.4 L922.0,1082.1 L925.0,1081.9 L928.0,1081.8 L931.0,1081.6 L934.0,1081.5 L937.0,1081.5 L940.0,1081.5 L943.0,1081.5 L946.0,1081.5 L949.0,1081.6 L952.0,1081.7 L955.0,1081.9 L958.0,1082.1 L961.0,1082.3 L964.0,1082.6 L967.0,1082.9 L970.0,1083.3 L973.0,1083.6 L976.0,1084.0 L979.0,1084.5 L982.0,1084.9 L985.0,1085.4 L988.0,1085.9 L991.0,1086.4 L994.0,1087.0 L997.0,1087.6 L1000.0,1088.2 L1003.0,1088.9 L1006.0,1089.5 L1009.0,1090.2 L1012.0,1090.9 L1015.0,1091.6 L1018.0,1092.4 L1021.0,1093.1 L1024.0,1093.9 L1027.0,1094.7 L1030.0,1095.5 L1033.0,1096.4 L1036.0,1097.2 L1039.0,1098.0 L1042.0,1098.9 L1045.0,1099.8 L1048.0,1100.7 L1051.0,1101.6 L1054.0,1102.5 L1057.0,1103.4 L1060.0,1104.3 L1063.0,1105.3 L1066.0,1106.2 L1069.0,1107.1 L1072.0,1108.1 L1075.0,1109.0 L1078.0,1110.0 L1081.0,1110.9 L1084.0,1111.9 L1087.0,1112.8 L1090.0,1113.8 L1093.0,1114.7 L1096.0,1115.7 L1099.0,1116.6 L1102.0,1117.6 L1105.0,1118.5 L1108.0,1119.4 L1111.0,1120.3 L1114.0,1121.3 L1117.0,1122.2 L1120.0,1123.1 L1123.0,1124.0 L1126.0,1124.9 L1129.0,1125.8 L1132.0,1126.7 L1135.0,1127.6 L1138.0,1128.5 L1141.0,1129.3 L1144.0,1130.2 L1147.0,1131.1 L1150.0,1131.9 L1153.0,1132.8 L1156.0,1133.7 L1159.0,1134.5 L1162.0,1135.3 L1165.0,1136.2 L1168.0,1137.0 L1171.0,1137.9 L1174.0,1138.7 L1177.0,1139.5 L1180.0,1140.3 L1183.0,1141.1 L1186.0,1141.9 L1189.0,1142.8 L1192.0,1143.6 L1195.0,1144.3 L1198.0,1145.1 L1201.0,1145.9 L1204.0,1146.7 L1207.0,1147.5 L1210.0,1148.3 L1213.0,1149.0 L1216.0,1149.8 L1219.0,1150.5 L1222.0,1151.3 L1225.0,1152.0 L1228.0,1152.8 L1231.0,1153.5 L1234.0,1154.3 L1237.0,1155.0 L1240.0,1155.7 L1243.0,1156.4 L1246.0,1157.2 L1249.0,1157.9 L1252.0,1158.6 L1255.0,1159.3 L1258.0,1160.0 L1261.0,1160.7 L1264.0,1161.4 L1267.0,1162.1 L1270.0,1162.7 L1273.0,1163.4 L1276.0,1164.1 L1279.0,1164.8 L1282.0,1165.4 L1285.0,1166.1 L1288.0,1166.7 L1291.0,1167.4 L1294.0,1168.0 L1297.0,1168.7 L1300.0,1169.3 L1303.0,1169.9 L1306.0,1170.6 L1309.0,1171.2 L1312.0,1171.8 L1315.0,1172.4 L1318.0,1173.0 L1321.0,1173.6 L1324.0,1174.2 L1327.0,1174.8 L1330.0,1175.4 L1333.0,1176.0 L1336.0,1176.6 L1339.0,1177.1 L1342.0,1177.7 L1345.0,1178.3 L1348.0,1178.8 L1351.0,1179.4 L1354.0,1180.0 L1357.0,1180.5 L1360.0,1181.0 L1363.0,1181.6 L1366.0,1182.1 L1369.0,1182.7 L1372.0,1183.2 L1375.0,1183.7 L1378.0,1184.2 L1381.0,1184.7 L1384.0,1185.2 L1387.0,1185.7 L1390.0,1186.2 L1393.0,1186.7 L1396.0,1187.2 L1399.0,1187.7 L1402.0,1188.2 L1405.0,1188.7 L1408.0,1189.2 L1411.0,1189.6 L1414.0,1190.1 L1417.0,1190.5 L1420.0,1191.0 L1423.0,1191.5 L1426.0,1191.9 L1429.0,1192.4 L1432.0,1192.8 L1435.0,1193.2 L1438.0,1193.7 L1441.0,1194.1 L1444.0,1194.5 L1447.0,1194.9 L1450.0,1195.4 L1453.0,1195.8 L1456.0,1196.2 L1459.0,1196.6 L1462.0,1197.0 L1465.0,1197.4 L1468.0,1197.8 L1471.0,1198.2 L1474.0,1198.6 L1477.0,1199.0 L1480.0,1199.3 L1483.0,1199.7 L1486.0,1200.1 L1489.0,1200.5 L1492.0,1200.8 L1495.0,1201.2 L1498.0,1201.6 L1501.0,1201.9 L1504.0,1202.3 L1507.0,1202.6 L1510.0,1203.0 L1513.0,1203.3 L1516.0,1203.7 L1519.0,1204.0 L1522.0,1204.3 L1525.0,1204.7 L1528.0,1205.0 L1531.0,1205.3 L1534.0,1205.7 L1537.0,1206.0 L1540.0,1206.3 L1543.0,1206.6 L1546.0,1206.9 L1549.0,1207.2 L1552.0,1207.5 L1555.0,1207.9 L1558.0,1208.2 L1561.0,1208.5 L1564.0,1208.8 L1567.0,1209.0 L1570.0,1209.3 L1573.0,1209.6 L1576.0,1209.9 L1579.0,1210.2 L1582.0,1210.5 L1585.0,1210.8 L1588.0,1211.0 L1591.0,1211.3 L1594.0,1211.6 L1597.0,1211.9 L1600.0,1212.1 L1603.0,1212.4 L1606.0,1212.6 L1609.0,1212.9 L1612.0,1213.2 L1615.0,1213.4 L1618.0,1213.7 L1621.0,1213.9 L1624.0,1214.2 L1627.0,1214.4 L1630.0,1214.7 L1633.0,1214.9 L1636.0,1215.2 L1639.0,1215.4 L1642.0,1215.6 L1645.0,1215.9 L1648.0,1216.1 L1651.0,1216.3 L1654.0,1216.6 L1657.0,1216.8 L1660.0,1217.0 L1663.0,1217.3 L1666.0,1217.5 L1669.0,1217.7 L1672.0,1217.9 L1675.0,1218.2 L1678.0,1218.4 L1681.0,1218.6 L1684.0,1218.8 L1687.0,1219.0 L1690.0,1219.2 L1693.0,1219.4 L1696.0,1219.7 L1699.0,1219.9 L1702.0,1220.1 L1705.0,1220.3 L1708.0,1220.5 L1711.0,1220.7 L1714.0,1220.9 L1717.0,1221.1 L1720.0,1221.3 L1723.0,1221.5 L1726.0,1221.7 L1729.0,1221.9 L1732.0,1222.1 L1735.0,1222.3 L1738.0,1222.5 L1741.0,1222.7 L1744.0,1222.9 L1747.0,1223.1 L1750.0,1223.3 L1753.0,1223.5 L1756.0,1223.6 L1759.0,1223.8 L1762.0,1224.0 L1765.0,1224.2 L1768.0,1224.4 L1771.0,1224.6 L1774.0,1224.8 L1775.8,1224.9" stroke="#24aa68"/>
<path d="M211.0,1230.8 L214.0,1231.1 L217.0,1231.4 L220.0,1231.6 L223.0,1231.8 L226.0,1232.0 L229.0,1232.1 L232.0,1232.2 L235.0,1232.3 L238.0,1232.3 L241.0,1232.3 L244.0,1232.3 L247.0,1232.3 L250.0,1232.2 L253.0,1232.2 L256.0,1232.1 L259.0,1231.9 L262.0,1231.8 L265.0,1231.7 L268.0,1231.5 L271.0,1231.3 L274.0,1231.1 L277.0,1230.9 L280.0,1230.7 L283.0,1230.4 L286.0,1230.2 L289.0,1229.9 L292.0,1229.7 L295.0,1229.4 L298.0,1229.1 L301.0,1228.9 L304.0,1228.6 L307.0,1228.3 L310.0,1228.0 L313.0,1227.7 L316.0,1227.4 L319.0,1227.1 L322.0,1226.8 L325.0,1226.5 L328.0,1226.1 L331.0,1225.8 L334.0,1225.5 L337.0,1225.1 L340.0,1224.8 L343.0,1224.4 L346.0,1224.1 L349.0,1223.7 L352.0,1223.3 L355.0,1223.0 L358.0,1222.6 L361.0,1222.2 L364.0,1221.8 L367.0,1221.4 L370.0,1221.0 L373.0,1220.6 L376.0,1220.2 L379.0,1219.7 L382.0,1219.3 L385.0,1218.8 L388.0,1218.4 L391.0,1217.9 L394.0,1217.5 L397.0,1217.0 L400.0,1216.5 L403.0,1216.0 L406.0,1215.5 L409.0,1215.0 L412.0,1214.5 L415.0,1214.0 L418.0,1213.4 L421.0,1212.9 L424.0,1212.3 L427.0,1211.8 L430.0,1211.2 L433.0,1210.6 L436.0,1210.0 L439.0,1209.5 L442.0,1208.8 L445.0,1208.2 L448.0,1207.6 L451.0,1207.0 L454.0,1206.3 L457.0,1205.7 L460.0,1205.0 L463.0,1204.3 L466.0,1203.6 L469.0,1203.0 L472.0,1202.2 L475.0,1201.5 L478.0,1200.8 L481.0,1200.1 L484.0,1199.3 L487.0,1198.6 L490.0,1197.8 L493.0,1197.0 L496.0,1196.2 L499.0,1195.4 L502.0,1194.6 L505.0,1193.7 L508.0,1192.9 L511.0,1192.1 L514.0,1191.2 L517.0,1190.3 L520.0,1189.4 L523.0,1188.5 L526.0,1187.6 L529.0,1186.7 L532.0,1185.7 L535.0,1184.8 L538.0,1183.8 L541.0,1182.8 L544.0,1181.8 L547.0,1180.8 L550.0,1179.8 L553.0,1178.8 L556.0,1177.7 L559.0,1176.7 L562.0,1175.6 L565.0,1174.5 L568.0,1173.4 L571.0,1172.3 L574.0,1171.2 L577.0,1170.0 L580.0,1168.8 L583.0,1167.7 L586.0,1166.5 L589.0,1165.3 L592.0,1164.1 L595.0,1162.8 L598.0,1161.6 L601.0,1160.3 L604.0,1159.0 L607.0,1157.7 L610.0,1156.4 L613.0,1155.1 L616.0,1153.7 L619.0,1152.4 L622.0,1151.0 L625.0,1149.6 L628.0,1148.2 L631.0,1146.8 L634.0,1145.3 L637.0,1143.9 L640.0,1142.4 L643.0,1140.9 L646.0,1139.4 L649.0,1137.9 L652.0,1136.3 L655.0,1134.8 L658.0,1133.2 L661.0,1131.6 L664.0,1130.0 L667.0,1128.4 L670.0,1126.7 L673.0,1125.1 L676.0,1123.4 L679.0,1121.7 L682.0,1119.9 L685.0,1118.2 L688.0,1116.4 L691.0,1114.7 L694.0,1112.9 L697.0,1111.1 L700.0,1109.2 L703.0,1107.4 L706.0,1105.5 L709.0,1103.6 L712.0,1101.7 L715.0,1099.8 L718.0,1097.8 L721.0,1095.8 L724.0,1093.8 L727.0,1091.8 L730.0,1089.8 L733.0,1087.8 L736.0,1085.7 L739.0,1083.6 L742.0,1081.5 L745.0,1079.3 L748.0,1077.2 L751.0,1075.0 L754.0,1072.8 L757.0,1070.6 L760.0,1068.4 L763.0,1066.1 L766.0,1063.8 L769.0,1061.5 L772.0,1059.2 L775.0,1056.8 L778.0,1054.5 L781.0,1052.1 L784.0,1049.7 L787.0,1047.2 L790.0,1044.8 L793.0,1042.3 L796.0,1039.8 L799.0,1037.3 L802.0,1034.7 L805.0,1032.1 L808.0,1029.6 L811.0,1027.0 L814.0,1024.4 L817.0,1021.8 L820.0,1019.3 L823.0,1016.8 L826.0,1014.3 L829.0,1011.9 L832.0,1009.5 L835.0,1007.2 L838.0,1004.9 L841.0,1002.7 L844.0,1000.6 L847.0,998.6 L850.0,996.7 L853.0,994.8 L856.0,993.1 L859.0,991.5 L862.0,990.0 L865.0,988.6 L868.0,987.2 L871.0,986.0 L874.0,984.8 L877.0,983.7 L880.0,982.7 L883.0,981.8 L886.0,980.9 L889.0,980.1 L892.0,979.4 L895.0,978.7 L898.0,978.1 L901.0,977.5 L904.0,977.0 L907.0,976.6 L910.0,976.2 L913.0,975.8 L916.0,975.5 L919.0,975.3 L922.0,975.1 L925.0,975.0 L928.0,974.9 L931.0,974.9 L934.0,974.9 L937.0,975.0 L940.0,975.1 L943.0,975.3 L946.0,975.6 L949.0,975.9 L952.0,976.2 L955.0,976.6 L958.0,977.0 L961.0,977.5 L964.0,978.1 L967.0,978.6 L970.0,979.3 L973.0,979.9 L976.0,980.6 L979.0,981.4 L982.0,982.2 L985.0,983.0 L988.0,983.9 L991.0,984.8 L994.0,985.7 L997.0,986.7 L1000.0,987.7 L1003.0,988.8 L1006.0,989.8 L1009.0,990.9 L1012.0,992.1 L1015.0,993.2 L1018.0,994.4 L1021.0,995.6 L1024.0,996.9 L1027.0,998.1 L1030.0,999.4 L1033.0,1000.7 L1036.0,1002.0 L1039.0,1003.3 L1042.0,1004.7 L1045.0,1006.1 L1048.0,1007.4 L1051.0,1008.8 L1054.0,1010.2 L1057.0,1011.7 L1060.0,1013.1 L1063.0,1014.5 L1066.0,1016.0 L1069.0,1017.4 L1072.0,1018.9 L1075.0,1020.3 L1078.0,1021.8 L1081.0,1023.3 L1084.0,1024.7 L1087.0,1026.2 L1090.0,1027.7 L1093.0,1029.1 L1096.0,1030.6 L1099.0,1032.0 L1102.0,1033.5 L1105.0,1034.9 L1108.0,1036.4 L1111.0,1037.8 L1114.0,1039.2 L1117.0,1040.6 L1120.0,1042.0 L1123.0,1043.4 L1126.0,1044.8 L1129.0,1046.2 L1132.0,1047.6 L1135.0,1049.0 L1138.0,1050.3 L1141.0,1051.7 L1144.0,1053.1 L1147.0,1054.4 L1150.0,1055.8 L1153.0,1057.1 L1156.0,1058.4 L1159.0,1059.7 L1162.0,1061.0 L1165.0,1062.4 L1168.0,1063.7 L1171.0,1064.9 L1174.0,1066.2 L1177.0,1067.5 L1180.0,1068.8 L1183.0,1070.1 L1186.0,1071.3 L1189.0,1072.6 L1192.0,1073.8 L1195.0,1075.1 L1198.0,1076.3 L1201.0,1077.5 L1204.0,1078.7 L1207.0,1079.9 L1210.0,1081.1 L1213.0,1082.3 L1216.0,1083.5 L1219.0,1084.7 L1222.0,1085.9 L1225.0,1087.1 L1228.0,1088.2 L1231.0,1089.4 L1234.0,1090.5 L1237.0,1091.7 L1240.0,1092.8 L1243.0,1094.0 L1246.0,1095.1 L1249.0,1096.2 L1252.0,1097.3 L1255.0,1098.4 L1258.0,1099.5 L1261.0,1100.6 L1264.0,1101.7 L1267.0,1102.7 L1270.0,1103.8 L1273.0,1104.9 L1276.0,1105.9 L1279.0,1107.0 L1282.0,1108.0 L1285.0,1109.0 L1288.0,1110.1 L1291.0,1111.1 L1294.0,1112.1 L1297.0,1113.1 L1300.0,1114.1 L1303.0,1115.1 L1306.0,1116.1 L1309.0,1117.0 L1312.0,1118.0 L1315.0,1119.0 L1318.0,1119.9 L1321.0,1120.9 L1324.0,1121.8 L1327.0,1122.7 L1330.0,1123.7 L1333.0,1124.6 L1336.0,1125.5 L1339.0,1126.4 L1342.0,1127.3 L1345.0,1128.2 L1348.0,1129.1 L1351.0,1129.9 L1354.0,1130.8 L1357.0,1131.7 L1360.0,1132.5 L1363.0,1133.4 L1366.0,1134.2 L1369.0,1135.0 L1372.0,1135.9 L1375.0,1136.7 L1378.0,1137.5 L1381.0,1138.3 L1384.0,1139.1 L1387.0,1139.9 L1390.0,1140.7 L1393.0,1141.4 L1396.0,1142.2 L1399.0,1143.0 L1402.0,1143.7 L1405.0,1144.5 L1408.0,1145.2 L1411.0,1146.0 L1414.0,1146.7 L1417.0,1147.4 L1420.0,1148.1 L1423.0,1148.8 L1426.0,1149.5 L1429.0,1150.2 L1432.0,1150.9 L1435.0,1151.6 L1438.0,1152.3 L1441.0,1152.9 L1444.0,1153.6 L1447.0,1154.3 L1450.0,1154.9 L1453.0,1155.6 L1456.0,1156.2 L1459.0,1156.8 L1462.0,1157.5 L1465.0,1158.1 L1468.0,1158.7 L1471.0,1159.3 L1474.0,1159.9 L1477.0,1160.5 L1480.0,1161.1 L1483.0,1161.7 L1486.0,1162.3 L1489.0,1162.9 L1492.0,1163.4 L1495.0,1164.0 L1498.0,1164.6 L1501.0,1165.1 L1504.0,1165.7 L1507.0,1166.2 L1510.0,1166.8 L1513.0,1167.3 L1516.0,1167.8 L1519.0,1168.4 L1522.0,1168.9 L1525.0,1169.4 L1528.0,1169.9 L1531.0,1170.4 L1534.0,1170.9 L1537.0,1171.4 L1540.0,1171.9 L1543.0,1172.4 L1546.0,1172.9 L1549.0,1173.4 L1552.0,1173.9 L1555.0,1174.4 L1558.0,1174.8 L1561.0,1175.3 L1564.0,1175.8 L1567.0,1176.2 L1570.0,1176.7 L1573.0,1177.1 L1576.0,1177.6 L1579.0,1178.0 L1582.0,1178.4 L1585.0,1178.9 L1588.0,1179.3 L1591.0,1179.7 L1594.0,1180.2 L1597.0,1180.6 L1600.0,1181.0 L1603.0,1181.4 L1606.0,1181.8 L1609.0,1182.2 L1612.0,1182.6 L1615.0,1183.0 L1618.0,1183.4 L1621.0,1183.8 L1624.0,1184.2 L1627.0,1184.6 L1630.0,1185.0 L1633.0,1185.4 L1636.0,1185.8 L1639.0,1186.1 L1642.0,1186.5 L1645.0,1186.9 L1648.0,1187.2 L1651.0,1187.6 L1654.0,1188.0 L1657.0,1188.3 L1660.0,1188.7 L1663.0,1189.0 L1666.0,1189.4 L1669.0,1189.8 L1672.0,1190.1 L1675.0,1190.4 L1678.0,1190.8 L1681.0,1191.1 L1684.0,1191.5 L1687.0,1191.8 L1690.0,1192.2 L1693.0,1192.5 L1696.0,1192.8 L1699.0,1193.2 L1702.0,1193.5 L1705.0,1193.8 L1708.0,1194.1 L1711.0,1194.5 L1714.0,1194.8 L1717.0,1195.1 L1720.0,1195.4 L1723.0,1195.8 L1726.0,1196.1 L1729.0,1196.4 L1732.0,1196.7 L1735.0,1197.0 L1738.0,1197.3 L1741.0,1197.6 L1744.0,1198.0 L1747.0,1198.3 L1750.0,1198.6 L1753.0,1198.9 L1756.0,1199.2 L1759.0,1199.5 L1762.0,1199.8 L1765.0,1200.1 L1768.0,1200.4 L1771.0,1200.7 L1774.0,1201.0 L1775.8,1201.2" stroke="#139786"/>
<path d="M211.0,1213.4 L214.0,1213.7 L217.0,1213.9 L220.0,1214.2 L223.0,1214.4 L226.0,1214.6 L229.0,1214.7 L232.0,1214.9 L235.0,1215.0 L238.0,1215.0 L241.0,1215.1 L244.0,1215.1 L247.0,1215.1 L250.0,1215.1 L253.0,1215.0 L256.0,1215.0 L259.0,1214.9 L262.0,1214.7 L265.0,1214.6 L268.0,1214.4 L271.0,1214.2 L274.0,1214.0 L277.0,1213.7 L280.0,1213.5 L283.0,1213.2 L286.0,1212.8 L289.0,1212.5 L292.0,1212.1 L295.0,1211.7 L298.0,1211.3 L301.0,1210.9 L304.0,1210.4 L307.0,1209.9 L310.0,1209.4 L313.0,1208.9 L316.0,1208.3 L319.0,1207.7 L322.0,1207.1 L325.0,1206.5 L328.0,1205.9 L331.0,1205.2 L334.0,1204.5 L337.0,1203.8 L340.0,1203.1 L343.0,1202.3 L346.0,1201.5 L349.0,1200.7 L352.0,1199.9 L355.0,1199.1 L358.0,1198.2 L361.0,1197.3 L364.0,1196.4 L367.0,1195.5 L370.0,1194.5 L373.0,1193.5 L376.0,1192.6 L379.0,1191.5 L382.0,1190.5 L385.0,1189.5 L388.0,1188.4 L391.0,1187.3 L394.0,1186.2 L397.0,1185.0 L400.0,1183.9 L403.0,1182.7 L406.0,1181.5 L409.0,1180.3 L412.0,1179.1 L415.0,1177.8 L418.0,1176.6 L421.0,1175.3 L424.0,1174.0 L427.0,1172.6 L430.0,1171.3 L433.0,1169.9 L436.0,1168.6 L439.0,1167.2 L442.0,1165.7 L445.0,1164.3 L448.0,1162.9 L451.0,1161.4 L454.0,1159.9 L457.0,1158.4 L460.0,1156.9 L463.0,1155.4 L466.0,1153.8 L469.0,1152.3 L472.0,1150.7 L475.0,1149.1 L478.0,1147.5 L481.0,1145.9 L484.0,1144.3 L487.0,1142.6 L490.0,1141.0 L493.0,1139.3 L496.0,1137.6 L499.0,1135.9 L502.0,1134.2 L505.0,1132.5 L508.0,1130.8 L511.0,1129.0 L514.0,1127.3 L517.0,1125.5 L520.0,1123.8 L523.0,1122.0 L526.0,1120.2 L529.0,1118.4 L532.0,1116.6 L535.0,1114.8 L538.0,1112.9 L541.0,1111.1 L544.0,1109.2 L547.0,1107.3 L550.0,1105.4 L553.0,1103.5 L556.0,1101.6 L559.0,1099.6 L562.0,1097.6 L565.0,1095.6 L568.0,1093.6 L571.0,1091.5 L574.0,1089.5 L577.0,1087.4 L580.0,1085.2 L583.0,1083.1 L586.0,1080.9 L589.0,1078.7 L592.0,1076.4 L595.0,1074.2 L598.0,1071.8 L601.0,1069.5 L604.0,1067.1 L607.0,1064.7 L610.0,1062.3 L613.0,1059.8 L616.0,1057.3 L619.0,1054.7 L622.0,1052.1 L625.0,1049.5 L628.0,1046.8 L631.0,1044.1 L634.0,1041.3 L637.0,1038.5 L640.0,1035.7 L643.0,1032.8 L646.0,1029.9 L649.0,1026.9 L652.0,1023.8 L655.0,1020.7 L658.0,1017.6 L661.0,1014.4 L664.0,1011.2 L667.0,1007.9 L670.0,1004.5 L673.0,1001.1 L676.0,997.7 L679.0,994.2 L682.0,990.6 L685.0,987.0 L688.0,983.3 L691.0,979.5 L694.0,975.7 L697.0,971.9 L700.0,968.0 L703.0,964.0 L706.0,959.9 L709.0,955.9 L712.0,951.7 L715.0,947.5 L718.0,943.3 L721.0,939.0 L724.0,934.7 L727.0,930.3 L730.0,925.9 L733.0,921.5 L736.0,917.0 L739.0,912.5 L742.0,907.9 L745.0,903.3 L748.0,898.7 L751.0,894.0 L754.0,889.3 L757.0,884.6 L760.0,879.9 L763.0,875.1 L766.0,870.3 L769.0,865.5 L772.0,860.7 L775.0,855.8 L778.0,850.9 L781.0,846.1 L784.0,841.2 L787.0,836.3 L790.0,831.4 L793.0,826.5 L796.0,821.7 L799.0,816.9 L802.0,812.1 L805.0,807.3 L808.0,802.6 L811.0,797.9 L814.0,793.3 L817.0,788.8 L820.0,784.3 L823.0,779.9 L826.0,775.5 L829.0,771.3 L832.0,767.1 L835.0,763.0 L838.0,759.0 L841.0,755.1 L844.0,751.3 L847.0,747.6 L850.0,744.1 L853.0,740.6 L856.0,737.3 L859.0,734.2 L862.0,731.1 L865.0,728.2 L868.0,725.5 L871.0,722.9 L874.0,720.5 L877.0,718.2 L880.0,716.1 L883.0,714.1 L886.0,712.3 L889.0,710.6 L892.0,709.1 L895.0,707.7 L898.0,706.5 L901.0,705.3 L904.0,704.4 L907.0,703.5 L910.0,702.8 L913.0,702.2 L916.0,701.8 L919.0,701.4 L922.0,701.2 L925.0,701.1 L928.0,701.1 L931.0,701.3 L934.0,701.5 L937.0,701.9 L940.0,702.3 L943.0,702.9 L946.0,703.5 L949.0,704.3 L952.0,705.2 L955.0,706.1 L958.0,707.2 L961.0,708.4 L964.0,709.6 L967.0,710.9 L970.0,712.3 L973.0,713.8 L976.0,715.4 L979.0,717.0 L982.0,718.7 L985.0,720.5 L988.0,722.4 L991.0,724.3 L994.0,726.3 L997.0,728.4 L1000.0,730.5 L1003.0,732.6 L1006.0,734.9 L1009.0,737.1 L1012.0,739.5 L1015.0,741.9 L1018.0,744.3 L1021.0,746.8 L1024.0,749.3 L1027.0,751.8 L1030.0,754.4 L1033.0,757.0 L1036.0,759.7 L1039.0,762.3 L1042.0,765.1 L1045.0,767.8 L1048.0,770.5 L1051.0,773.3 L1054.0,776.1 L1057.0,778.9 L1060.0,781.7 L1063.0,784.6 L1066.0,787.4 L1069.0,790.2 L1072.0,793.1 L1075.0,795.9 L1078.0,798.8 L1081.0,801.6 L1084.0,804.5 L1087.0,807.3 L1090.0,810.1 L1093.0,812.9 L1096.0,815.8 L1099.0,818.6 L1102.0,821.4 L1105.0,824.2 L1108.0,827.0 L1111.0,829.7 L1114.0,832.5 L1117.0,835.3 L1120.0,838.0 L1123.0,840.8 L1126.0,843.5 L1129.0,846.3 L1132.0,849.0 L1135.0,851.7 L1138.0,854.4 L1141.0,857.1 L1144.0,859.8 L1147.0,862.5 L1150.0,865.1 L1153.0,867.8 L1156.0,870.4 L1159.0,873.1 L1162.0,875.7 L1165.0,878.3 L1168.0,880.9 L1171.0,883.5 L1174.0,886.1 L1177.0,888.7 L1180.0,891.2 L1183.0,893.8 L1186.0,896.3 L1189.0,898.8 L1192.0,901.3 L1195.0,903.8 L1198.0,906.3 L1201.0,908.8 L1204.0,911.2 L1207.0,913.6 L1210.0,916.1 L1213.0,918.5 L1216.0,920.9 L1219.0,923.3 L1222.0,925.6 L1225.0,928.0 L1228.0,930.3 L1231.0,932.6 L1234.0,934.9 L1237.0,937.2 L1240.0,939.5 L1243.0,941.7 L1246.0,944.0 L1249.0,946.2 L1252.0,948.4 L1255.0,950.6 L1258.0,952.7 L1261.0,954.9 L1264.0,957.0 L1267.0,959.1 L1270.0,961.2 L1273.0,963.3 L1276.0,965.3 L1279.0,967.4 L1282.0,969.4 L1285.0,971.4 L1288.0,973.4 L1291.0,975.4 L1294.0,977.3 L1297.0,979.3 L1300.0,981.2 L1303.0,983.1 L1306.0,985.0 L1309.0,986.9 L1312.0,988.7 L1315.0,990.6 L1318.0,992.4 L1321.0,994.2 L1324.0,996.0 L1327.0,997.8 L1330.0,999.6 L1333.0,1001.3 L1336.0,1003.0 L1339.0,1004.8 L1342.0,1006.5 L1345.0,1008.2 L1348.0,1009.8 L1351.0,1011.5 L1354.0,1013.1 L1357.0,1014.8 L1360.0,1016.4 L1363.0,1018.0 L1366.0,1019.6 L1369.0,1021.1 L1372.0,1022.7 L1375.0,1024.2 L1378.0,1025.8 L1381.0,1027.3 L1384.0,1028.8 L1387.0,1030.3 L1390.0,1031.8 L1393.0,1033.2 L1396.0,1034.7 L1399.0,1036.1 L1402.0,1037.5 L1405.0,1038.9 L1408.0,1040.3 L1411.0,1041.7 L1414.0,1043.1 L1417.0,1044.4 L1420.0,1045.8 L1423.0,1047.1 L1426.0,1048.4 L1429.0,1049.7 L1432.0,1051.0 L1435.0,1052.3 L1438.0,1053.6 L1441.0,1054.8 L1444.0,1056.1 L1447.0,1057.3 L1450.0,1058.6 L1453.0,1059.8 L1456.0,1061.0 L1459.0,1062.2 L1462.0,1063.3 L1465.0,1064.5 L1468.0,1065.7 L1471.0,1066.8 L1474.0,1067.9 L1477.0,1069.1 L1480.0,1070.2 L1483.0,1071.3 L1486.0,1072.4 L1489.0,1073.5 L1492.0,1074.5 L1495.0,1075.6 L1498.0,1076.6 L1501.0,1077.7 L1504.0,1078.7 L1507.0,1079.7 L1510.0,1080.8 L1513.0,1081.8 L1516.0,1082.8 L1519.0,1083.7 L1522.0,1084.7 L1525.0,1085.7 L1528.0,1086.6 L1531.0,1087.6 L1534.0,1088.5 L1537.0,1089.5 L1540.0,1090.4 L1543.0,1091.3 L1546.0,1092.2 L1549.0,1093.1 L1552.0,1094.0 L1555.0,1094.9 L1558.0,1095.7 L1561.0,1096.6 L1564.0,1097.5 L1567.0,1098.3 L1570.0,1099.2 L1573.0,1100.0 L1576.0,1100.8 L1579.0,1101.6 L1582.0,1102.4 L1585.0,1103.2 L1588.0,1104.0 L1591.0,1104.8 L1594.0,1105.6 L1597.0,1106.4 L1600.0,1107.2 L1603.0,1107.9 L1606.0,1108.7 L1609.0,1109.4 L1612.0,1110.2 L1615.0,1110.9 L1618.0,1111.6 L1621.0,1112.4 L1624.0,1113.1 L1627.0,1113.8 L1630.0,1114.5 L1633.0,1115.2 L1636.0,1115.9 L1639.0,1116.6 L1642.0,1117.3 L1645.0,1118.0 L1648.0,1118.7 L1651.0,1119.3 L1654.0,1120.0 L1657.0,1120.7 L1660.0,1121.3 L1663.0,1122.0 L1666.0,1122.6 L1669.0,1123.3 L1672.0,1123.9 L1675.0,1124.5 L1678.0,1125.2 L1681.0,1125.8 L1684.0,1126.4 L1687.0,1127.0 L1690.0,1127.6 L1693.0,1128.3 L1696.0,1128.9 L1699.0,1129.5 L1702.0,1130.1 L1705.0,1130.7 L1708.0,1131.3 L1711.0,1131.9 L1714.0,1132.4 L1717.0,1133.0 L1720.0,1133.6 L1723.0,1134.2 L1726.0,1134.8 L1729.0,1135.4 L1732.0,1135.9 L1735.0,1136.5 L1738.0,1137.1 L1741.0,1137.6 L1744.0,1138.2 L1747.0,1138.8 L1750.0,1139.3 L1753.0,1139.9 L1756.0,1140.4 L1759.0,1141.0 L1762.0,1141.6 L1765.0,1142.1 L1768.0,1142.7 L1771.0,1143.2 L1774.0,1143.8 L1775.8,1144.1" stroke="#1d7a88"/>
<path d="M211.0,1180.6 L214.0,1181.0 L217.0,1181.3 L220.0,1181.5 L223.0,1181.8 L226.0,1182.0 L229.0,1182.1 L232.0,1182.3 L235.0,1182.3 L238.0,1182.4 L241.0,1182.4 L244.0,1182.4 L247.0,1182.3 L250.0,1182.2 L253.0,1182.0 L256.0,1181.8 L259.0,1181.6 L262.0,1181.3 L265.0,1181.0 L268.0,1180.6 L271.0,1180.2 L274.0,1179.7 L277.0,1179.2 L280.0,1178.7 L283.0,1178.1 L286.0,1177.5 L289.0,1176.8 L292.0,1176.1 L295.0,1175.3 L298.0,1174.5 L301.0,1173.6 L304.0,1172.7 L307.0,1171.8 L310.0,1170.7 L313.0,1169.7 L316.0,1168.6 L319.0,1167.4 L322.0,1166.2 L325.0,1165.0 L328.0,1163.7 L331.0,1162.3 L334.0,1160.9 L337.0,1159.4 L340.0,1157.9 L343.0,1156.3 L346.0,1154.7 L349.0,1153.0 L352.0,1151.3 L355.0,1149.6 L358.0,1147.7 L361.0,1145.9 L364.0,1144.0 L367.0,1142.0 L370.0,1140.0 L373.0,1138.0 L376.0,1135.9 L379.0,1133.7 L382.0,1131.5 L385.0,1129.3 L388.0,1127.1 L391.0,1124.7 L394.0,1122.4 L397.0,1120.0 L400.0,1117.6 L403.0,1115.1 L406.0,1112.6 L409.0,1110.1 L412.0,1107.5 L415.0,1104.9 L418.0,1102.2 L421.0,1099.6 L424.0,1096.8 L427.0,1094.1 L430.0,1091.3 L433.0,1088.5 L436.0,1085.7 L439.0,1082.8 L442.0,1079.9 L445.0,1076.9 L448.0,1074.0 L451.0,1071.0 L454.0,1068.0 L457.0,1064.9 L460.0,1061.8 L463.0,1058.7 L466.0,1055.6 L469.0,1052.4 L472.0,1049.2 L475.0,1046.0 L478.0,1042.7 L481.0,1039.4 L484.0,1036.1 L487.0,1032.8 L490.0,1029.4 L493.0,1026.0 L496.0,1022.5 L499.0,1019.0 L502.0,1015.5 L505.0,1012.0 L508.0,1008.4 L511.0,1004.8 L514.0,1001.2 L517.0,997.5 L520.0,993.8 L523.0,990.0 L526.0,986.3 L529.0,982.5 L532.0,978.6 L535.0,974.7 L538.0,970.8 L541.0,966.9 L544.0,962.9 L547.0,958.9 L550.0,954.9 L553.0,950.8 L556.0,946.7 L559.0,942.5 L562.0,938.3 L565.0,934.1 L568.0,929.8 L571.0,925.4 L574.0,921.0 L577.0,916.6 L580.0,912.1 L583.0,907.6 L586.0,903.0 L589.0,898.3 L592.0,893.6 L595.0,888.9 L598.0,884.0 L601.0,879.1 L604.0,874.2 L607.0,869.1 L610.0,864.0 L613.0,858.9 L616.0,853.6 L619.0,848.3 L622.0,842.9 L625.0,837.4 L628.0,831.9 L631.0,826.2 L634.0,820.5 L637.0,814.7 L640.0,808.8 L643.0,802.9 L646.0,796.8 L649.0,790.6 L652.0,784.4 L655.0,778.1 L658.0,771.6 L661.0,765.1 L664.0,758.4 L667.0,751.7 L670.0,744.9 L673.0,737.9 L676.0,730.9 L679.0,723.7 L682.0,716.4 L685.0,709.0 L688.0,701.5 L691.0,693.9 L694.0,686.2 L697.0,678.3 L700.0,670.4 L703.0,662.3 L706.0,654.1 L709.0,645.8 L712.0,637.4 L715.0,628.8 L718.0,620.2 L721.0,611.5 L724.0,602.7 L727.0,593.8 L730.0,584.8 L733.0,575.8 L736.0,566.6 L739.0,557.4 L742.0,548.1 L745.0,538.7 L748.0,529.3 L751.0,519.8 L754.0,510.2 L757.0,500.6 L760.0,490.9 L763.0,481.2 L766.0,471.5 L769.0,461.6 L772.0,451.8 L775.0,441.9 L778.0,432.0 L781.0,422.0 L784.0,412.0 L787.0,402.1 L790.0,392.1 L793.0,382.2 L796.0,372.3 L799.0,362.5 L802.0,352.7 L805.0,343.0 L808.0,333.4 L811.0,323.8 L814.0,314.4 L817.0,305.1 L820.0,296.0 L823.0,287.0 L826.0,278.2 L829.0,269.5 L832.0,261.0 L835.0,252.7 L838.0,244.7 L841.0,236.8 L844.0,229.2 L847.0,221.9 L850.0,214.8 L853.0,207.9 L856.0,201.4 L859.0,195.2 L862.0,189.2 L865.0,183.6 L868.0,178.3 L871.0,173.3 L874.0,168.6 L877.0,164.1 L880.0,160.0 L883.0,156.3 L886.0,152.8 L889.0,149.6 L892.0,146.7 L895.0,144.2 L898.0,142.0 L901.0,140.0 L904.0,138.4 L907.0,137.1 L910.0,136.1 L913.0,135.3 L916.0,134.9 L919.0,134.6 L922.0,134.7 L925.0,135.0 L928.0,135.6 L931.0,136.3 L934.0,137.4 L937.0,138.6 L940.0,140.1 L943.0,141.7 L946.0,143.6 L949.0,145.6 L952.0,147.9 L955.0,150.3 L958.0,152.9 L961.0,155.7 L964.0,158.6 L967.0,161.6 L970.0,164.8 L973.0,168.2 L976.0,171.6 L979.0,175.2 L982.0,178.9 L985.0,182.7 L988.0,186.6 L991.0,190.7 L994.0,194.8 L997.0,199.0 L1000.0,203.3 L1003.0,207.7 L1006.0,212.2 L1009.0,216.8 L1012.0,221.5 L1015.0,226.3 L1018.0,231.1 L1021.0,236.0 L1024.0,241.1 L1027.0,246.1 L1030.0,251.3 L1033.0,256.5 L1036.0,261.8 L1039.0,267.2 L1042.0,272.6 L1045.0,278.1 L1048.0,283.6 L1051.0,289.1 L1054.0,294.7 L1057.0,300.4 L1060.0,306.0 L1063.0,311.7 L1066.0,317.5 L1069.0,323.2 L1072.0,328.9 L1075.0,334.7 L1078.0,340.4 L1081.0,346.2 L1084.0,352.0 L1087.0,357.7 L1090.0,363.5 L1093.0,369.2 L1096.0,375.0 L1099.0,380.7 L1102.0,386.4 L1105.0,392.2 L1108.0,397.9 L1111.0,403.6 L1114.0,409.3 L1117.0,415.0 L1120.0,420.6 L1123.0,426.3 L1126.0,431.9 L1129.0,437.6 L1132.0,443.2 L1135.0,448.8 L1138.0,454.4 L1141.0,459.9 L1144.0,465.5 L1147.0,471.0 L1150.0,476.5 L1153.0,482.0 L1156.0,487.4 L1159.0,492.9 L1162.0,498.3 L1165.0,503.6 L1168.0,509.0 L1171.0,514.3 L1174.0,519.6 L1177.0,524.9 L1180.0,530.1 L1183.0,535.3 L1186.0,540.5 L1189.0,545.6 L1192.0,550.7 L1195.0,555.8 L1198.0,560.8 L1201.0,565.8 L1204.0,570.7 L1207.0,575.6 L1210.0,580.5 L1213.0,585.3 L1216.0,590.1 L1219.0,594.9 L1222.0,599.6 L1225.0,604.3 L1228.0,608.9 L1231.0,613.5 L1234.0,618.0 L1237.0,622.5 L1240.0,627.0 L1243.0,631.4 L1246.0,635.8 L1249.0,640.2 L1252.0,644.5 L1255.0,648.8 L1258.0,653.0 L1261.0,657.2 L1264.0,661.4 L1267.0,665.5 L1270.0,669.6 L1273.0,673.7 L1276.0,677.7 L1279.0,681.7 L1282.0,685.6 L1285.0,689.5 L1288.0,693.4 L1291.0,697.3 L1294.0,701.1 L1297.0,704.8 L1300.0,708.6 L1303.0,712.3 L1306.0,716.0 L1309.0,719.6 L1312.0,723.2 L1315.0,726.8 L1318.0,730.3 L1321.0,733.9 L1324.0,737.3 L1327.0,740.8 L1330.0,744.2 L1333.0,747.6 L1336.0,750.9 L1339.0,754.3 L1342.0,757.6 L1345.0,760.8 L1348.0,764.1 L1351.0,767.3 L1354.0,770.4 L1357.0,773.6 L1360.0,776.7 L1363.0,779.8 L1366.0,782.9 L1369.0,785.9 L1372.0,788.9 L1375.0,791.9 L1378.0,794.8 L1381.0,797.7 L1384.0,800.6 L1387.0,803.5 L1390.0,806.4 L1393.0,809.2 L1396.0,812.0 L1399.0,814.7 L1402.0,817.5 L1405.0,820.2 L1408.0,822.9 L1411.0,825.5 L1414.0,828.2 L1417.0,830.8 L1420.0,833.4 L1423.0,836.0 L1426.0,838.5 L1429.0,841.0 L1432.0,843.5 L1435.0,846.0 L1438.0,848.5 L1441.0,850.9 L1444.0,853.3 L1447.0,855.7 L1450.0,858.1 L1453.0,860.4 L1456.0,862.8 L1459.0,865.1 L1462.0,867.4 L1465.0,869.6 L1468.0,871.9 L1471.0,874.1 L1474.0,876.3 L1477.0,878.5 L1480.0,880.7 L1483.0,882.9 L1486.0,885.0 L1489.0,887.1 L1492.0,889.2 L1495.0,891.3 L1498.0,893.4 L1501.0,895.4 L1504.0,897.5 L1507.0,899.5 L1510.0,901.5 L1513.0,903.5 L1516.0,905.4 L1519.0,907.4 L1522.0,909.3 L1525.0,911.2 L1528.0,913.1 L1531.0,915.0 L1534.0,916.9 L1537.0,918.8 L1540.0,920.6 L1543.0,922.4 L1546.0,924.3 L1549.0,926.1 L1552.0,927.8 L1555.0,929.6 L1558.0,931.4 L1561.0,933.1 L1564.0,934.9 L1567.0,936.6 L1570.0,938.3 L1573.0,940.0 L1576.0,941.6 L1579.0,943.3 L1582.0,945.0 L1585.0,946.6 L1588.0,948.2 L1591.0,949.8 L1594.0,951.4 L1597.0,953.0 L1600.0,954.6 L1603.0,956.2 L1606.0,957.7 L1609.0,959.2 L1612.0,960.8 L1615.0,962.3 L1618.0,963.8 L1621.0,965.3 L1624.0,966.8 L1627.0,968.2 L1630.0,969.7 L1633.0,971.2 L1636.0,972.6 L1639.0,974.0 L1642.0,975.4 L1645.0,976.9 L1648.0,978.3 L1651.0,979.6 L1654.0,981.0 L1657.0,982.4 L1660.0,983.8 L1663.0,985.1 L1666.0,986.5 L1669.0,987.8 L1672.0,989.1 L1675.0,990.4 L1678.0,991.7 L1681.0,993.0 L1684.0,994.3 L1687.0,995.6 L1690.0,996.9 L1693.0,998.2 L1696.0,999.4 L1699.0,1000.7 L1702.0,1001.9 L1705.0,1003.2 L1708.0,1004.4 L1711.0,1005.6 L1714.0,1006.8 L1717.0,1008.0 L1720.0,1009.2 L1723.0,1010.4 L1726.0,1011.6 L1729.0,1012.8 L1732.0,1014.0 L1735.0,1015.2 L1738.0,1016.3 L1741.0,1017.5 L1744.0,1018.6 L1747.0,1019.8 L1750.0,1020.9 L1753.0,1022.1 L1756.0,1023.2 L1759.0,1024.3 L1762.0,1025.5 L1765.0,1026.6 L1768.0,1027.7 L1771.0,1028.8 L1774.0,1029.9 L1775.8,1030.6" stroke="#2d5b8a"/>
</g>
<path d="M254.5,1287.5V1300.0 M254.5,27.8V40.3 M471.8,1287.5V1312.5 M471.8,27.8V52.8 M689.1,1287.5V1300.0 M689.1,27.8V40.3 M906.5,1287.5V1312.5 M906.5,27.8V52.8 M1123.8,1287.5V1300.0 M1123.8,27.8V40.3 M1341.1,1287.5V1312.5 M1341.1,27.8V52.8 M1558.5,1287.5V1300.0 M1558.5,27.8V40.3 M1775.8,1287.5V1312.5 M1775.8,27.8V52.8 M211.0,1287.5H186.0 M1775.8,1287.5H1750.8 M211.0,1203.5H198.5 M1775.8,1203.5H1763.3 M211.0,1119.5H186.0 M1775.8,1119.5H1750.8 M211.0,1035.6H198.5 M1775.8,1035.6H1763.3 M211.0,951.6H186.0 M1775.8,951.6H1750.8 M211.0,867.6H198.5 M1775.8,867.6H1763.3 M211.0,783.6H186.0 M1775.8,783.6H1750.8 M211.0,699.6H198.5 M1775.8,699.6H1763.3 M211.0,615.7H186.0 M1775.8,615.7H1750.8 M211.0,531.7H198.5 M1775.8,531.7H1763.3 M211.0,447.7H186.0 M1775.8,447.7H1750.8 M211.0,363.7H198.5 M1775.8,363.7H1763.3 M211.0,279.7H186.0 M1775.8,279.7H1750.8 M211.0,195.8H198.5 M1775.8,195.8H1763.3 M211.0,111.8H186.0 M1775.8,111.8H1750.8 M211.0,27.8H198.5 M1775.8,27.8H1763.3" stroke="#000" stroke-width="4.5" fill="none"/>
<rect x="211.0" y="27.8" width="1564.8" height="1259.7" fill="none" stroke="#000" stroke-width="5.0" stroke-linejoin="miter"/>
<g font-family="'Liberation Serif', serif" font-size="55.5" fill="#000" stroke="#fff" stroke-width="0.5" paint-order="fill">
<text x="471.8" y="1369.5" text-anchor="middle">350</text>
<text x="906.5" y="1369.5" text-anchor="middle">400</text>
<text x="1341.1" y="1369.5" text-anchor="middle">450</text>
<text x="1775.8" y="1369.5" text-anchor="middle">500</text>
<text x="169" y="1302.1" text-anchor="end">0.0</text>
<text x="169" y="1134.1" text-anchor="end">0.5</text>
<text x="169" y="966.2" text-anchor="end">1.0</text>
<text x="169" y="798.2" text-anchor="end">1.5</text>
<text x="169" y="630.3" text-anchor="end">2.0</text>
<text x="169" y="462.3" text-anchor="end">2.5</text>
<text x="169" y="294.3" text-anchor="end">3.0</text>
<text x="169" y="126.4" text-anchor="end">3.5</text>
</g>
<text x="994" y="1473.3" text-anchor="middle" font-family="'Liberation Serif', serif" font-size="66" stroke="#fff" stroke-width="0.5" paint-order="fill">Wavelength, nm</text>
<text transform="translate(73,655.8) rotate(-90)" text-anchor="middle" font-family="'Liberation Serif', serif" font-size="66" stroke="#fff" stroke-width="0.5" paint-order="fill">Optical density</text>
<g font-family="'Liberation Serif', serif" font-size="55" stroke="#fff" stroke-width="0.5" paint-order="fill">
<path d="M1357.2,107.6H1484.7" stroke="#2d5b8a" stroke-width="4.3"/>
<text x="1496.5" y="125.6">20 µg/mL</text>
<path d="M1357.2,175.9H1484.7" stroke="#1d7a88" stroke-width="4.3"/>
<text x="1496.5" y="193.9">10 µg/mL</text>
<path d="M1357.2,244.1H1484.7" stroke="#139786" stroke-width="4.3"/>
<text x="1496.5" y="262.1">5 µg/mL</text>
<path d="M1357.2,312.4H1484.7" stroke="#24aa68" stroke-width="4.3"/>
<text x="1496.5" y="330.4">3 µg/mL</text>
<path d="M1357.2,380.7H1484.7" stroke="#5ec94f" stroke-width="4.3"/>
<text x="1496.5" y="398.7">2 µg/mL</text>
<path d="M1357.2,448.9H1484.7" stroke="#acdc1c" stroke-width="4.3"/>
<text x="1496.5" y="466.9">1 µg/mL</text>
<path d="M1357.2,517.2H1484.7" stroke="#fde41c" stroke-width="4.3"/>
<text x="1496.5" y="535.2">0.5 µg/mL</text>
</g>
</svg>
</body></html>
